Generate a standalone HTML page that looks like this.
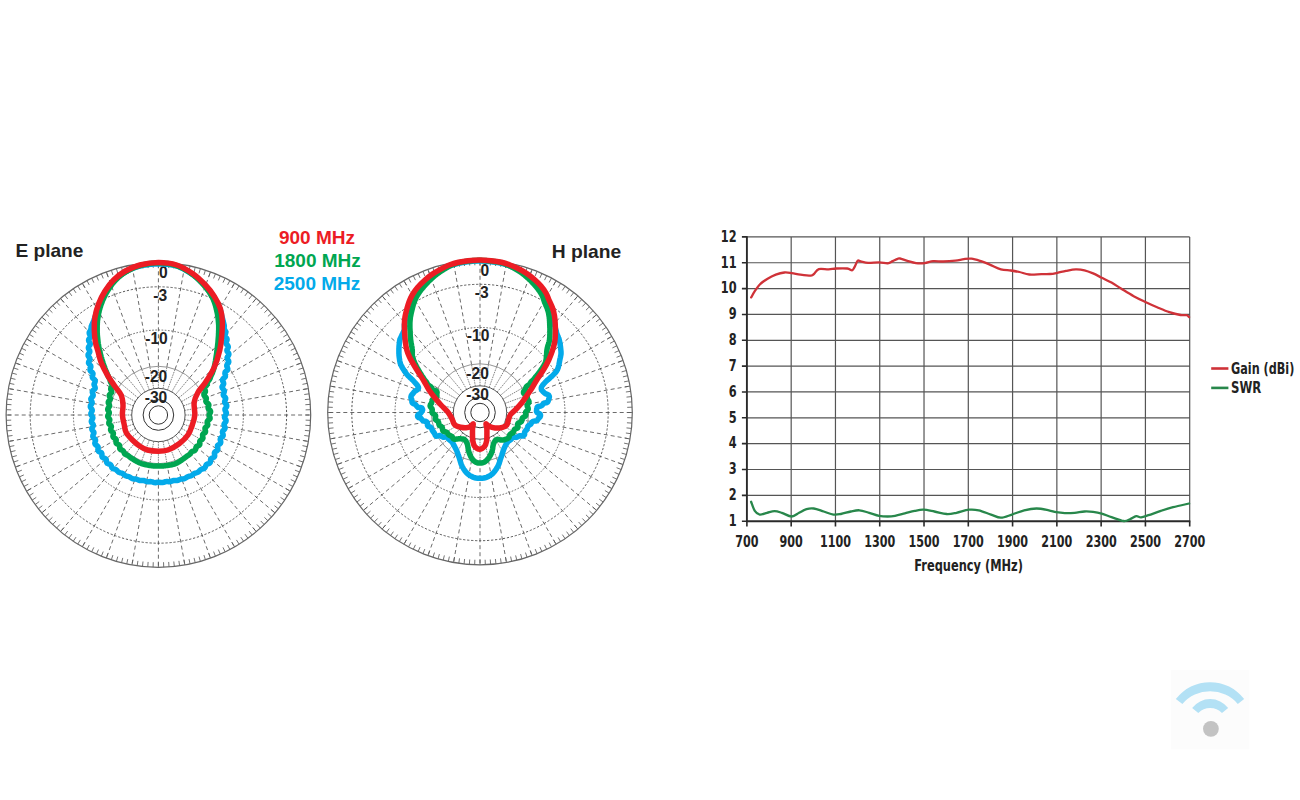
<!DOCTYPE html>
<html><head><meta charset="utf-8"><title>Antenna patterns</title>
<style>
html,body{margin:0;padding:0;background:#fff;}
svg{display:block;}
.tt{font-family:"Liberation Sans",Arial,sans-serif;font-weight:bold;font-size:19px;fill:#222;}
.pl{font-family:"Liberation Sans",Arial,sans-serif;font-weight:bold;font-size:15.6px;fill:#222;}
.cl{font-family:"DejaVu Sans Condensed","DejaVu Sans",sans-serif;font-weight:bold;font-size:15.2px;fill:#222;}
</style></head>
<body>
<svg width="1300" height="800" viewBox="0 0 1300 800">
<path d="M158.4,366.3L158.4,262.7M166.86,367.04L184.85,265.01M175.06,369.24L210.49,271.88M182.75,372.82L234.55,283.1M189.7,377.69L256.3,298.33M195.71,383.7L275.07,317.1M200.58,390.65L290.3,338.85M204.16,398.34L301.52,362.91M206.36,406.54L308.39,388.55M207.1,415L310.7,415M206.36,423.46L308.39,441.45M204.16,431.66L301.52,467.09M200.58,439.35L290.3,491.15M195.71,446.3L275.07,512.9M189.7,452.31L256.3,531.67M182.75,457.18L234.55,546.9M175.06,460.76L210.49,558.12M166.86,462.96L184.85,564.99M158.4,463.7L158.4,567.3M149.94,462.96L131.95,564.99M141.74,460.76L106.31,558.12M134.05,457.18L82.25,546.9M127.1,452.31L60.5,531.67M121.09,446.3L41.73,512.9M116.22,439.35L26.5,491.15M112.64,431.66L15.28,467.09M110.44,423.46L8.41,441.45M109.7,415L6.1,415M110.44,406.54L8.41,388.55M112.64,398.34L15.28,362.91M116.22,390.65L26.5,338.85M121.09,383.7L41.73,317.1M127.1,377.69L60.5,298.33M134.05,372.82L82.25,283.1M141.74,369.24L106.31,271.88M149.94,367.04L131.95,265.01" stroke="#5a5a5a" stroke-width="0.9" stroke-dasharray="4 3" fill="none"/>
<path d="M158.4,388.3L158.4,366.3M163.04,388.71L166.86,367.04M167.53,389.91L175.06,369.24M171.75,391.88L182.75,372.82M175.56,394.55L189.7,377.69M178.85,397.84L195.71,383.7M181.52,401.65L200.58,390.65M183.49,405.87L204.16,398.34M184.69,410.36L206.36,406.54M185.1,415L207.1,415M184.69,419.64L206.36,423.46M183.49,424.13L204.16,431.66M181.52,428.35L200.58,439.35M178.85,432.16L195.71,446.3M175.56,435.45L189.7,452.31M171.75,438.12L182.75,457.18M167.53,440.09L175.06,460.76M163.04,441.29L166.86,462.96M158.4,441.7L158.4,463.7M153.76,441.29L149.94,462.96M149.27,440.09L141.74,460.76M145.05,438.12L134.05,457.18M141.24,435.45L127.1,452.31M137.95,432.16L121.09,446.3M135.28,428.35L116.22,439.35M133.31,424.13L112.64,431.66M132.11,419.64L110.44,423.46M131.7,415L109.7,415M132.11,410.36L110.44,406.54M133.31,405.87L112.64,398.34M135.28,401.65L116.22,390.65M137.95,397.84L121.09,383.7M141.24,394.55L127.1,377.69M145.05,391.88L134.05,372.82M149.27,389.91L141.74,369.24M153.76,388.71L149.94,367.04" stroke="#666" stroke-width="0.8" stroke-dasharray="1.6 0.9" fill="none"/>
<path d="M158.4,267.7L158.4,262.7M163.54,267.79L163.72,262.79M168.68,268.06L169.02,263.07M173.8,268.51L174.32,263.53M178.9,269.13L179.6,264.18M183.98,269.94L184.85,265.01M189.03,270.92L190.06,266.03M194.04,272.08L195.24,267.22M199,273.41L200.38,268.6M203.92,274.91L205.46,270.15M208.78,276.58L210.49,271.88M213.58,278.43L215.45,273.79M218.31,280.43L220.35,275.87M222.97,282.61L225.16,278.11M227.55,284.94L229.9,280.53M232.05,287.43L234.55,283.1M236.46,290.08L239.11,285.84M240.77,292.88L243.57,288.74M244.98,295.83L247.92,291.79M249.09,298.93L252.17,294.99M253.08,302.16L256.3,298.33M256.96,305.53L260.31,301.82M260.72,309.04L264.2,305.44M264.36,312.68L267.96,309.2M267.87,316.44L271.58,313.09M271.24,320.32L275.07,317.1M274.47,324.31L278.41,321.23M277.57,328.42L281.61,325.48M280.52,332.63L284.66,329.83M283.32,336.94L287.56,334.29M285.97,341.35L290.3,338.85M288.46,345.85L292.87,343.5M290.79,350.43L295.29,348.24M292.97,355.09L297.53,353.05M294.97,359.82L299.61,357.95M296.82,364.62L301.52,362.91M298.49,369.48L303.25,367.94M299.99,374.4L304.8,373.02M301.32,379.36L306.18,378.16M302.48,384.37L307.37,383.34M303.46,389.42L308.39,388.55M304.27,394.5L309.22,393.8M304.89,399.6L309.87,399.08M305.34,404.72L310.33,404.38M305.61,409.86L310.61,409.68M305.7,415L310.7,415M305.61,420.14L310.61,420.32M305.34,425.28L310.33,425.62M304.89,430.4L309.87,430.92M304.27,435.5L309.22,436.2M303.46,440.58L308.39,441.45M302.48,445.63L307.37,446.66M301.32,450.64L306.18,451.84M299.99,455.6L304.8,456.98M298.49,460.52L303.25,462.06M296.82,465.38L301.52,467.09M294.97,470.18L299.61,472.05M292.97,474.91L297.53,476.95M290.79,479.57L295.29,481.76M288.46,484.15L292.87,486.5M285.97,488.65L290.3,491.15M283.32,493.06L287.56,495.71M280.52,497.37L284.66,500.17M277.57,501.58L281.61,504.52M274.47,505.69L278.41,508.77M271.24,509.68L275.07,512.9M267.87,513.56L271.58,516.91M264.36,517.32L267.96,520.8M260.72,520.96L264.2,524.56M256.96,524.47L260.31,528.18M253.08,527.84L256.3,531.67M249.09,531.07L252.17,535.01M244.98,534.17L247.92,538.21M240.77,537.12L243.57,541.26M236.46,539.92L239.11,544.16M232.05,542.57L234.55,546.9M227.55,545.06L229.9,549.47M222.97,547.39L225.16,551.89M218.31,549.57L220.35,554.13M213.58,551.57L215.45,556.21M208.78,553.42L210.49,558.12M203.92,555.09L205.46,559.85M199,556.59L200.38,561.4M194.04,557.92L195.24,562.78M189.03,559.08L190.06,563.97M183.98,560.06L184.85,564.99M178.9,560.87L179.6,565.82M173.8,561.49L174.32,566.47M168.68,561.94L169.02,566.93M163.54,562.21L163.72,567.21M158.4,562.3L158.4,567.3M153.26,562.21L153.08,567.21M148.12,561.94L147.78,566.93M143,561.49L142.48,566.47M137.9,560.87L137.2,565.82M132.82,560.06L131.95,564.99M127.77,559.08L126.74,563.97M122.76,557.92L121.56,562.78M117.8,556.59L116.42,561.4M112.88,555.09L111.34,559.85M108.02,553.42L106.31,558.12M103.22,551.57L101.35,556.21M98.49,549.57L96.45,554.13M93.83,547.39L91.64,551.89M89.25,545.06L86.9,549.47M84.75,542.57L82.25,546.9M80.34,539.92L77.69,544.16M76.03,537.12L73.23,541.26M71.82,534.17L68.88,538.21M67.71,531.07L64.63,535.01M63.72,527.84L60.5,531.67M59.84,524.47L56.49,528.18M56.08,520.96L52.6,524.56M52.44,517.32L48.84,520.8M48.93,513.56L45.22,516.91M45.56,509.68L41.73,512.9M42.33,505.69L38.39,508.77M39.23,501.58L35.19,504.52M36.28,497.37L32.14,500.17M33.48,493.06L29.24,495.71M30.83,488.65L26.5,491.15M28.34,484.15L23.93,486.5M26.01,479.57L21.51,481.76M23.83,474.91L19.27,476.95M21.83,470.18L17.19,472.05M19.98,465.38L15.28,467.09M18.31,460.52L13.55,462.06M16.81,455.6L12,456.98M15.48,450.64L10.62,451.84M14.32,445.63L9.43,446.66M13.34,440.58L8.41,441.45M12.53,435.5L7.58,436.2M11.91,430.4L6.93,430.92M11.46,425.28L6.47,425.62M11.19,420.14L6.19,420.32M11.1,415L6.1,415M11.19,409.86L6.19,409.68M11.46,404.72L6.47,404.38M11.91,399.6L6.93,399.08M12.53,394.5L7.58,393.8M13.34,389.42L8.41,388.55M14.32,384.37L9.43,383.34M15.48,379.36L10.62,378.16M16.81,374.4L12,373.02M18.31,369.48L13.55,367.94M19.98,364.62L15.28,362.91M21.83,359.82L17.19,357.95M23.83,355.09L19.27,353.05M26.01,350.43L21.51,348.24M28.34,345.85L23.93,343.5M30.83,341.35L26.5,338.85M33.48,336.94L29.24,334.29M36.28,332.63L32.14,329.83M39.23,328.42L35.19,325.48M42.33,324.31L38.39,321.23M45.56,320.32L41.73,317.1M48.93,316.44L45.22,313.09M52.44,312.68L48.84,309.2M56.08,309.04L52.6,305.44M59.84,305.53L56.49,301.82M63.72,302.16L60.5,298.33M67.71,298.93L64.63,294.99M71.82,295.83L68.88,291.79M76.03,292.88L73.23,288.74M80.34,290.08L77.69,285.84M84.75,287.43L82.25,283.1M89.25,284.94L86.9,280.53M93.83,282.61L91.64,278.11M98.49,280.43L96.45,275.87M103.22,278.43L101.35,273.79M108.02,276.58L106.31,271.88M112.88,274.91L111.34,270.15M117.8,273.41L116.42,268.6M122.76,272.08L121.56,267.22M127.77,270.92L126.74,266.03M132.82,269.94L131.95,265.01M137.9,269.13L137.2,264.18M143,268.51L142.48,263.53M148.12,268.06L147.78,263.07M153.26,267.79L153.08,262.79" stroke="#5a5a5a" stroke-width="0.85" fill="none"/>
<circle cx="158.4" cy="415" r="152.3" stroke="#666" stroke-width="1.2" fill="none"/>
<circle cx="158.4" cy="415" r="128.2" stroke="#444" stroke-width="0.9" stroke-dasharray="2.2 1.8" fill="none"/>
<circle cx="158.4" cy="415" r="85" stroke="#555" stroke-width="0.9" stroke-dasharray="1.6 1.6" fill="none"/>
<circle cx="158.4" cy="415" r="48.7" stroke="#8a8a8a" stroke-width="0.9" fill="none"/>
<circle cx="158.4" cy="415" r="26.7" stroke="#555" stroke-width="1" fill="none"/>
<circle cx="158.4" cy="415" r="15.3" stroke="#333" stroke-width="1" fill="none"/>
<circle cx="158.4" cy="415" r="9.2" stroke="#333" stroke-width="1" fill="none"/>
<path d="M480,363.8L480,260.2M488.46,364.54L506.45,262.51M496.66,366.74L532.09,269.38M504.35,370.32L556.15,280.6M511.3,375.19L577.9,295.83M517.31,381.2L596.67,314.6M522.18,388.15L611.9,336.35M525.76,395.84L623.12,360.41M527.96,404.04L629.99,386.05M528.7,412.5L632.3,412.5M527.96,420.96L629.99,438.95M525.76,429.16L623.12,464.59M522.18,436.85L611.9,488.65M517.31,443.8L596.67,510.4M511.3,449.81L577.9,529.17M504.35,454.68L556.15,544.4M496.66,458.26L532.09,555.62M488.46,460.46L506.45,562.49M480,461.2L480,564.8M471.54,460.46L453.55,562.49M463.34,458.26L427.91,555.62M455.65,454.68L403.85,544.4M448.7,449.81L382.1,529.17M442.69,443.8L363.33,510.4M437.82,436.85L348.1,488.65M434.24,429.16L336.88,464.59M432.04,420.96L330.01,438.95M431.3,412.5L327.7,412.5M432.04,404.04L330.01,386.05M434.24,395.84L336.88,360.41M437.82,388.15L348.1,336.35M442.69,381.2L363.33,314.6M448.7,375.19L382.1,295.83M455.65,370.32L403.85,280.6M463.34,366.74L427.91,269.38M471.54,364.54L453.55,262.51" stroke="#5a5a5a" stroke-width="0.9" stroke-dasharray="4 3" fill="none"/>
<path d="M480,385.8L480,363.8M484.64,386.21L488.46,364.54M489.13,387.41L496.66,366.74M493.35,389.38L504.35,370.32M497.16,392.05L511.3,375.19M500.45,395.34L517.31,381.2M503.12,399.15L522.18,388.15M505.09,403.37L525.76,395.84M506.29,407.86L527.96,404.04M506.7,412.5L528.7,412.5M506.29,417.14L527.96,420.96M505.09,421.63L525.76,429.16M503.12,425.85L522.18,436.85M500.45,429.66L517.31,443.8M497.16,432.95L511.3,449.81M493.35,435.62L504.35,454.68M489.13,437.59L496.66,458.26M484.64,438.79L488.46,460.46M480,439.2L480,461.2M475.36,438.79L471.54,460.46M470.87,437.59L463.34,458.26M466.65,435.62L455.65,454.68M462.84,432.95L448.7,449.81M459.55,429.66L442.69,443.8M456.88,425.85L437.82,436.85M454.91,421.63L434.24,429.16M453.71,417.14L432.04,420.96M453.3,412.5L431.3,412.5M453.71,407.86L432.04,404.04M454.91,403.37L434.24,395.84M456.88,399.15L437.82,388.15M459.55,395.34L442.69,381.2M462.84,392.05L448.7,375.19M466.65,389.38L455.65,370.32M470.87,387.41L463.34,366.74M475.36,386.21L471.54,364.54" stroke="#666" stroke-width="0.8" stroke-dasharray="1.6 0.9" fill="none"/>
<path d="M480,265.2L480,260.2M485.14,265.29L485.32,260.29M490.28,265.56L490.62,260.57M495.4,266.01L495.92,261.03M500.5,266.63L501.2,261.68M505.58,267.44L506.45,262.51M510.63,268.42L511.66,263.53M515.64,269.58L516.84,264.72M520.6,270.91L521.98,266.1M525.52,272.41L527.06,267.65M530.38,274.08L532.09,269.38M535.18,275.93L537.05,271.29M539.91,277.93L541.95,273.37M544.57,280.11L546.76,275.61M549.15,282.44L551.5,278.03M553.65,284.93L556.15,280.6M558.06,287.58L560.71,283.34M562.37,290.38L565.17,286.24M566.58,293.33L569.52,289.29M570.69,296.43L573.77,292.49M574.68,299.66L577.9,295.83M578.56,303.03L581.91,299.32M582.32,306.54L585.8,302.94M585.96,310.18L589.56,306.7M589.47,313.94L593.18,310.59M592.84,317.82L596.67,314.6M596.07,321.81L600.01,318.73M599.17,325.92L603.21,322.98M602.12,330.13L606.26,327.33M604.92,334.44L609.16,331.79M607.57,338.85L611.9,336.35M610.06,343.35L614.47,341M612.39,347.93L616.89,345.74M614.57,352.59L619.13,350.55M616.57,357.32L621.21,355.45M618.42,362.12L623.12,360.41M620.09,366.98L624.85,365.44M621.59,371.9L626.4,370.52M622.92,376.86L627.78,375.66M624.08,381.87L628.97,380.84M625.06,386.92L629.99,386.05M625.87,392L630.82,391.3M626.49,397.1L631.47,396.58M626.94,402.22L631.93,401.88M627.21,407.36L632.21,407.18M627.3,412.5L632.3,412.5M627.21,417.64L632.21,417.82M626.94,422.78L631.93,423.12M626.49,427.9L631.47,428.42M625.87,433L630.82,433.7M625.06,438.08L629.99,438.95M624.08,443.13L628.97,444.16M622.92,448.14L627.78,449.34M621.59,453.1L626.4,454.48M620.09,458.02L624.85,459.56M618.42,462.88L623.12,464.59M616.57,467.68L621.21,469.55M614.57,472.41L619.13,474.45M612.39,477.07L616.89,479.26M610.06,481.65L614.47,484M607.57,486.15L611.9,488.65M604.92,490.56L609.16,493.21M602.12,494.87L606.26,497.67M599.17,499.08L603.21,502.02M596.07,503.19L600.01,506.27M592.84,507.18L596.67,510.4M589.47,511.06L593.18,514.41M585.96,514.82L589.56,518.3M582.32,518.46L585.8,522.06M578.56,521.97L581.91,525.68M574.68,525.34L577.9,529.17M570.69,528.57L573.77,532.51M566.58,531.67L569.52,535.71M562.37,534.62L565.17,538.76M558.06,537.42L560.71,541.66M553.65,540.07L556.15,544.4M549.15,542.56L551.5,546.97M544.57,544.89L546.76,549.39M539.91,547.07L541.95,551.63M535.18,549.07L537.05,553.71M530.38,550.92L532.09,555.62M525.52,552.59L527.06,557.35M520.6,554.09L521.98,558.9M515.64,555.42L516.84,560.28M510.63,556.58L511.66,561.47M505.58,557.56L506.45,562.49M500.5,558.37L501.2,563.32M495.4,558.99L495.92,563.97M490.28,559.44L490.62,564.43M485.14,559.71L485.32,564.71M480,559.8L480,564.8M474.86,559.71L474.68,564.71M469.72,559.44L469.38,564.43M464.6,558.99L464.08,563.97M459.5,558.37L458.8,563.32M454.42,557.56L453.55,562.49M449.37,556.58L448.34,561.47M444.36,555.42L443.16,560.28M439.4,554.09L438.02,558.9M434.48,552.59L432.94,557.35M429.62,550.92L427.91,555.62M424.82,549.07L422.95,553.71M420.09,547.07L418.05,551.63M415.43,544.89L413.24,549.39M410.85,542.56L408.5,546.97M406.35,540.07L403.85,544.4M401.94,537.42L399.29,541.66M397.63,534.62L394.83,538.76M393.42,531.67L390.48,535.71M389.31,528.57L386.23,532.51M385.32,525.34L382.1,529.17M381.44,521.97L378.09,525.68M377.68,518.46L374.2,522.06M374.04,514.82L370.44,518.3M370.53,511.06L366.82,514.41M367.16,507.18L363.33,510.4M363.93,503.19L359.99,506.27M360.83,499.08L356.79,502.02M357.88,494.87L353.74,497.67M355.08,490.56L350.84,493.21M352.43,486.15L348.1,488.65M349.94,481.65L345.53,484M347.61,477.07L343.11,479.26M345.43,472.41L340.87,474.45M343.43,467.68L338.79,469.55M341.58,462.88L336.88,464.59M339.91,458.02L335.15,459.56M338.41,453.1L333.6,454.48M337.08,448.14L332.22,449.34M335.92,443.13L331.03,444.16M334.94,438.08L330.01,438.95M334.13,433L329.18,433.7M333.51,427.9L328.53,428.42M333.06,422.78L328.07,423.12M332.79,417.64L327.79,417.82M332.7,412.5L327.7,412.5M332.79,407.36L327.79,407.18M333.06,402.22L328.07,401.88M333.51,397.1L328.53,396.58M334.13,392L329.18,391.3M334.94,386.92L330.01,386.05M335.92,381.87L331.03,380.84M337.08,376.86L332.22,375.66M338.41,371.9L333.6,370.52M339.91,366.98L335.15,365.44M341.58,362.12L336.88,360.41M343.43,357.32L338.79,355.45M345.43,352.59L340.87,350.55M347.61,347.93L343.11,345.74M349.94,343.35L345.53,341M352.43,338.85L348.1,336.35M355.08,334.44L350.84,331.79M357.88,330.13L353.74,327.33M360.83,325.92L356.79,322.98M363.93,321.81L359.99,318.73M367.16,317.82L363.33,314.6M370.53,313.94L366.82,310.59M374.04,310.18L370.44,306.7M377.68,306.54L374.2,302.94M381.44,303.03L378.09,299.32M385.32,299.66L382.1,295.83M389.31,296.43L386.23,292.49M393.42,293.33L390.48,289.29M397.63,290.38L394.83,286.24M401.94,287.58L399.29,283.34M406.35,284.93L403.85,280.6M410.85,282.44L408.5,278.03M415.43,280.11L413.24,275.61M420.09,277.93L418.05,273.37M424.82,275.93L422.95,271.29M429.62,274.08L427.91,269.38M434.48,272.41L432.94,267.65M439.4,270.91L438.02,266.1M444.36,269.58L443.16,264.72M449.37,268.42L448.34,263.53M454.42,267.44L453.55,262.51M459.5,266.63L458.8,261.68M464.6,266.01L464.08,261.03M469.72,265.56L469.38,260.57M474.86,265.29L474.68,260.29" stroke="#5a5a5a" stroke-width="0.85" fill="none"/>
<circle cx="480" cy="412.5" r="152.3" stroke="#666" stroke-width="1.2" fill="none"/>
<circle cx="480" cy="412.5" r="128.2" stroke="#444" stroke-width="0.9" stroke-dasharray="2.2 1.8" fill="none"/>
<circle cx="480" cy="412.5" r="85" stroke="#555" stroke-width="0.9" stroke-dasharray="1.6 1.6" fill="none"/>
<circle cx="480" cy="412.5" r="48.7" stroke="#8a8a8a" stroke-width="0.9" fill="none"/>
<circle cx="480" cy="412.5" r="26.7" stroke="#555" stroke-width="1" fill="none"/>
<circle cx="480" cy="412.5" r="15.3" stroke="#333" stroke-width="1" fill="none"/>
<circle cx="480" cy="412.5" r="9.2" stroke="#333" stroke-width="1" fill="none"/>
<text x="163.3" y="278" text-anchor="middle" class="pl">0</text>
<text x="160.2" y="301.4" text-anchor="middle" class="pl">-3</text>
<text x="156.5" y="344" text-anchor="middle" class="pl">-10</text>
<text x="156" y="382" text-anchor="middle" class="pl">-20</text>
<text x="156" y="403" text-anchor="middle" class="pl">-30</text>
<text x="484.9" y="275.5" text-anchor="middle" class="pl">0</text>
<text x="481.8" y="298.4" text-anchor="middle" class="pl">-3</text>
<text x="478.1" y="341" text-anchor="middle" class="pl">-10</text>
<text x="477.6" y="379" text-anchor="middle" class="pl">-20</text>
<text x="477.6" y="400" text-anchor="middle" class="pl">-30</text>
<path d="M158.4,264.0 156.9,264.0 155.3,264.1 153.7,264.1 152.1,264.2 150.5,264.3 148.9,264.5 147.4,264.7 145.8,264.9 144.3,265.1 142.8,265.4 141.3,265.7 139.9,266.0 138.5,266.4 137.2,266.8 135.8,267.2 134.5,267.7 133.2,268.2 131.9,268.7 130.7,269.3 129.5,269.8 128.3,270.4 127.1,271.0 126.0,271.6 124.9,272.2 123.8,272.9 122.8,273.5 121.8,274.2 120.8,274.9 119.8,275.6 118.9,276.3 118.0,277.1 117.1,277.8 116.2,278.6 115.3,279.4 114.5,280.2 113.7,281.0 112.8,281.8 112.0,282.7 111.2,283.6 110.4,284.5 109.7,285.5 108.9,286.4 108.2,287.4 107.5,288.3 106.8,289.3 106.2,290.3 105.5,291.3 104.9,292.2 104.3,293.3 103.7,294.3 103.1,295.4 102.6,296.4 102.0,297.5 101.5,298.6 101.0,299.7 100.5,300.7 100.1,301.7 99.7,302.7 99.3,303.6 98.9,304.5 98.6,305.3 98.3,306.1 98.0,306.8 97.8,307.4 97.6,308.1 97.5,308.7 97.3,309.3 97.2,309.9 97.0,310.4 96.9,310.9 96.8,311.5 96.6,312.0 96.4,312.5 96.3,313.0 96.2,313.4 96.0,313.8 95.9,314.2 95.8,314.6 95.7,315.0 95.6,315.4 95.4,315.7 95.3,316.1 95.2,316.6 95.0,317.0 94.8,317.5 94.7,317.9 94.5,318.4 94.3,318.9 94.1,319.4 93.9,319.9 93.8,320.4 93.6,320.9 93.4,321.4 93.2,322.0 93.0,322.5 92.8,323.0 92.6,323.5 92.4,324.0 92.1,324.5 91.9,325.0 91.6,325.6 91.4,326.1 91.2,326.6 91.2,327.2 91.1,327.8 91.1,328.4 91.1,329.0 90.9,329.6 90.7,330.1 90.4,330.7 90.0,331.2 89.6,331.7 89.3,332.3 89.2,332.9 89.3,333.6 89.5,334.2 90.0,334.9 90.3,335.6 90.5,336.3 90.4,337.1 90.0,337.8 89.3,338.6 88.7,339.5 88.6,340.4 88.9,341.4 89.6,342.3 90.1,343.3 90.3,344.2 89.9,345.1 89.3,345.9 88.7,346.7 88.4,347.5 88.4,348.1 88.6,348.7 88.9,349.3 89.2,349.8 89.5,350.3 89.7,350.7 89.8,351.2 89.8,351.6 89.7,352.1 89.4,352.7 88.9,353.3 88.4,354.0 88.1,354.8 88.1,355.7 88.6,356.6 89.4,357.5 89.9,358.5 89.9,359.6 89.3,360.7 88.7,361.8 88.5,362.9 89.1,364.0 90.0,364.9 90.7,365.8 90.9,366.9 90.4,368.1 90.0,369.5 90.2,370.7 91.2,371.6 92.4,372.5 93.0,373.6 92.8,374.8 92.4,376.1 92.3,377.3 92.7,378.1 93.5,378.8 94.2,379.4 94.8,379.9 95.1,380.4 95.2,380.9 95.2,381.4 95.0,381.9 94.9,382.4 94.6,382.9 94.4,383.4 94.2,383.8 94.0,384.3 94.1,384.9 94.4,385.6 94.8,386.5 95.1,387.4 95.2,388.3 94.7,389.1 93.9,389.8 93.0,390.5 92.4,391.3 92.3,392.2 92.6,393.2 93.0,394.3 93.2,395.2 93.1,396.0 92.5,396.7 91.7,397.5 91.1,398.2 90.8,399.0 91.0,399.9 91.4,400.8 91.9,401.7 92.2,402.6 92.0,403.4 91.5,404.2 90.9,405.0 90.4,405.8 90.3,406.7 90.6,407.5 91.2,408.3 91.8,409.1 92.2,409.9 92.2,410.8 91.9,411.6 91.3,412.5 90.9,413.4 90.9,414.2 91.2,415.0 91.8,415.8 92.4,416.6 92.8,417.4 92.8,418.2 92.4,419.1 91.8,419.9 91.4,420.8 91.3,421.6 91.6,422.5 92.2,423.3 92.9,424.1 93.3,424.9 93.2,425.8 92.8,426.8 92.2,427.8 91.8,428.7 92.0,429.7 92.6,430.6 93.4,431.5 93.9,432.3 93.9,433.3 93.4,434.3 92.9,435.4 92.8,436.4 93.2,437.4 94.0,438.2 95.0,438.9 95.5,439.8 95.5,440.8 95.1,442.0 94.8,443.1 95.1,444.1 95.8,444.9 96.9,445.6 97.7,446.3 98.1,447.1 98.1,448.2 97.9,449.4 98.0,450.5 98.5,451.3 99.5,451.9 100.6,452.3 101.5,452.9 101.9,453.8 101.9,455.0 101.9,456.2 102.3,457.2 103.2,457.8 104.4,458.2 105.6,458.7 106.3,459.6 106.4,460.9 106.6,462.3 107.2,463.3 108.3,463.8 109.6,464.2 110.6,464.8 111.2,465.7 111.6,466.9 112.1,467.9 112.8,468.6 113.9,468.9 114.9,469.2 115.8,469.5 116.6,470.1 117.3,470.9 118.0,471.6 118.8,472.2 119.7,472.6 120.6,472.9 121.6,473.1 122.5,473.5 123.4,474.0 124.2,474.7 125.0,475.4 125.9,475.9 126.9,476.2 127.9,476.4 128.9,476.6 129.9,477.1 130.7,477.7 131.6,478.3 132.6,478.7 133.6,478.9 134.7,479.0 135.7,479.1 136.8,479.3 137.8,479.7 138.7,480.2 139.8,480.5 140.9,480.6 142.0,480.6 143.1,480.5 144.1,480.6 145.1,481.0 146.1,481.4 147.1,481.7 148.2,481.8 149.2,481.7 150.3,481.6 151.3,481.7 152.3,481.9 153.3,482.3 154.3,482.6 155.3,482.7 156.4,482.5 157.4,482.3 158.4,482.2 159.4,482.3 160.4,482.5 161.5,482.6 162.5,482.6 163.5,482.4 164.5,482.0 165.5,481.7 166.5,481.6 167.6,481.6 168.6,481.7 169.7,481.7 170.7,481.5 171.7,481.1 172.7,480.7 173.7,480.5 174.8,480.5 175.9,480.6 177.0,480.5 178.1,480.3 179.1,479.8 180.0,479.3 181.1,479.0 182.1,478.9 183.2,478.9 184.2,478.7 185.2,478.3 186.1,477.7 187.0,477.1 187.9,476.6 188.9,476.3 189.9,476.1 190.9,475.9 191.8,475.4 192.7,474.8 193.4,474.1 194.3,473.5 195.2,473.1 196.2,472.8 197.1,472.5 198.1,472.1 198.9,471.5 199.6,470.8 200.3,470.0 201.1,469.4 202.0,469.0 203.0,468.8 204.0,468.5 204.8,467.9 205.3,467.1 205.7,466.1 206.1,465.1 206.7,464.4 207.6,463.9 208.7,463.6 209.7,463.2 210.3,462.4 210.5,461.4 210.5,460.3 210.7,459.2 211.2,458.5 212.1,458.1 213.0,457.7 213.9,457.2 214.5,456.6 214.7,455.8 214.6,454.8 214.4,453.8 214.4,452.9 214.7,452.1 215.5,451.5 216.5,451.0 217.4,450.3 217.8,449.4 217.8,448.2 217.5,446.9 217.5,445.7 218.3,444.8 219.5,444.1 220.5,443.2 220.8,442.1 220.5,440.7 220.2,439.4 220.5,438.3 221.5,437.4 222.5,436.6 223.2,435.6 223.1,434.5 222.6,433.2 222.4,431.9 222.8,430.9 223.8,430.0 224.7,429.1 225.1,428.1 224.9,427.0 224.3,425.9 224.0,424.9 224.1,424.0 224.7,423.1 225.4,422.3 225.9,421.5 226.1,420.7 225.9,419.9 225.4,419.0 224.8,418.2 224.5,417.4 224.5,416.6 224.9,415.8 225.5,415.0 226.1,414.2 226.4,413.4 226.3,412.6 225.8,411.7 225.3,410.8 225.0,409.9 225.0,409.1 225.4,408.3 226.1,407.5 226.6,406.7 226.8,405.8 226.6,405.0 226.0,404.2 225.3,403.4 224.8,402.7 224.6,401.9 224.8,401.1 225.2,400.1 225.6,399.2 225.7,398.3 225.3,397.5 224.6,396.8 223.8,396.0 223.3,395.1 223.3,394.2 223.7,393.1 224.2,392.0 224.4,391.0 223.9,390.0 223.1,389.1 222.3,388.1 222.0,387.0 222.5,385.9 223.3,384.8 223.7,383.7 223.5,382.6 222.8,381.3 222.5,379.9 223.1,378.7 224.4,377.7 225.4,376.6 225.3,375.1 224.9,373.5 225.1,372.1 226.2,371.1 227.4,370.1 227.8,368.9 227.4,367.5 226.8,366.3 226.8,365.1 227.4,364.1 228.3,363.0 228.8,361.9 228.6,360.8 227.9,359.8 227.3,358.7 227.1,357.7 227.5,356.8 228.2,355.9 228.7,355.0 228.9,354.2 228.7,353.4 228.2,352.7 227.7,352.1 227.2,351.4 227.0,350.9 226.9,350.3 227.1,349.6 227.4,349.0 227.8,348.3 228.1,347.6 228.3,346.9 228.1,346.2 227.7,345.5 227.0,344.8 226.4,344.2 226.0,343.5 225.9,342.7 226.2,341.9 226.6,341.0 227.0,340.2 227.1,339.4 226.9,338.6 226.3,337.9 225.7,337.3 225.1,336.6 224.8,335.8 224.9,335.0 225.2,334.2 225.6,333.3 225.8,332.5 225.8,331.8 225.5,331.0 225.0,330.4 224.6,329.7 224.3,329.1 224.2,328.4 224.2,327.8 224.2,327.1 224.3,326.5 224.3,325.9 224.2,325.3 224.1,324.7 223.9,324.2 223.8,323.6 223.6,323.1 223.5,322.5 223.4,322.0 223.3,321.5 223.2,321.0 223.0,320.5 222.9,320.0 222.8,319.5 222.6,319.0 222.5,318.5 222.4,318.0 222.2,317.5 222.1,317.0 221.9,316.5 221.8,316.0 221.7,315.5 221.5,314.9 221.4,314.4 221.3,313.9 221.2,313.4 221.1,312.9 221.0,312.3 220.8,311.7 220.7,311.1 220.4,310.5 220.2,309.8 219.9,309.0 219.6,308.2 219.2,307.3 218.8,306.4 218.4,305.4 217.9,304.4 217.5,303.4 217.0,302.4 216.4,301.3 215.9,300.3 215.3,299.2 214.7,298.2 214.2,297.2 213.5,296.3 212.9,295.3 212.3,294.4 211.6,293.5 210.9,292.5 210.2,291.6 209.5,290.7 208.7,289.7 207.9,288.8 207.1,287.9 206.3,286.9 205.4,286.0 204.5,285.1 203.6,284.1 202.6,283.1 201.7,282.2 200.6,281.2 199.6,280.2 198.6,279.3 197.5,278.3 196.4,277.4 195.2,276.5 194.1,275.6 192.9,274.8 191.7,273.9 190.4,273.1 189.1,272.2 187.8,271.4 186.5,270.6 185.1,269.8 183.8,269.0 182.4,268.3 180.9,267.7 179.5,267.0 178.1,266.5 176.7,266.0 175.2,265.6 173.7,265.2 172.2,264.9 170.7,264.7 169.2,264.5 167.7,264.3 166.1,264.2 164.6,264.1 163.0,264.1 161.5,264.0 159.9,264.0Z" stroke="#03aaea" stroke-width="5.5" fill="none" stroke-linejoin="round"/>
<path d="M158.4,263.0 156.9,263.0 155.3,263.1 153.8,263.2 152.2,263.3 150.6,263.5 149.0,263.7 147.5,264.0 145.9,264.2 144.4,264.5 142.9,264.9 141.5,265.2 140.1,265.6 138.7,266.0 137.4,266.4 136.1,266.9 134.8,267.4 133.5,267.9 132.3,268.5 131.1,269.1 129.9,269.7 128.7,270.3 127.6,270.9 126.5,271.6 125.4,272.2 124.4,272.9 123.3,273.5 122.4,274.2 121.4,274.9 120.5,275.6 119.6,276.4 118.7,277.1 117.9,277.9 117.0,278.7 116.2,279.5 115.4,280.4 114.6,281.2 113.8,282.1 113.1,283.0 112.3,283.9 111.6,284.8 110.9,285.8 110.2,286.8 109.5,287.8 108.8,288.8 108.2,289.8 107.6,290.8 107.0,291.8 106.4,292.8 105.8,293.8 105.3,294.8 104.8,295.9 104.2,296.9 103.8,298.0 103.3,299.0 102.8,300.1 102.4,301.1 102.0,302.2 101.6,303.3 101.2,304.3 100.8,305.4 100.5,306.5 100.1,307.6 99.8,308.7 99.5,309.8 99.2,310.9 99.0,312.0 98.7,313.1 98.5,314.2 98.3,315.3 98.1,316.4 98.0,317.4 97.8,318.5 97.7,319.5 97.5,320.6 97.4,321.6 97.4,322.6 97.3,323.6 97.3,324.6 97.2,325.6 97.2,326.5 97.2,327.5 97.2,328.5 97.2,329.5 97.2,330.5 97.2,331.5 97.2,332.5 97.3,333.5 97.3,334.6 97.4,335.6 97.5,336.6 97.6,337.6 97.7,338.6 97.8,339.6 97.9,340.6 98.0,341.6 98.1,342.5 98.2,343.4 98.4,344.3 98.5,345.2 98.7,346.1 98.8,347.0 99.0,347.8 99.2,348.7 99.4,349.5 99.6,350.4 99.8,351.2 100.0,352.1 100.2,353.0 100.4,353.9 100.7,354.8 100.9,355.7 101.1,356.6 101.4,357.5 101.7,358.4 101.9,359.4 102.2,360.3 102.5,361.2 102.8,362.1 103.1,363.1 103.4,364.0 103.7,365.0 104.1,365.9 104.5,366.9 104.8,367.9 105.2,368.9 105.6,369.9 106.0,370.9 106.4,371.9 106.8,372.8 107.2,373.8 107.5,374.6 107.9,375.5 108.2,376.3 108.6,377.1 109.1,377.8 109.5,378.6 109.9,379.3 110.1,380.1 110.2,380.9 110.4,381.6 110.6,382.3 111.0,382.8 111.5,383.4 111.9,383.9 112.2,384.5 112.4,385.0 112.4,385.6 112.2,386.1 112.0,386.5 111.7,386.9 111.3,387.3 111.0,387.7 110.8,388.2 110.7,388.7 110.7,389.3 111.0,390.0 111.4,390.7 111.7,391.5 111.7,392.3 111.2,393.0 110.5,393.7 109.8,394.4 109.3,395.1 109.3,396.0 109.7,397.0 110.2,397.9 110.4,398.8 110.1,399.6 109.5,400.4 108.7,401.2 108.3,402.0 108.3,403.0 108.8,403.9 109.4,404.9 109.6,405.8 109.3,406.7 108.6,407.5 108.0,408.4 107.7,409.2 107.8,410.0 108.3,410.8 108.8,411.5 109.2,412.2 109.3,412.9 109.1,413.6 108.7,414.2 108.2,414.9 107.9,415.5 107.7,416.2 107.8,416.8 108.2,417.4 108.7,418.0 109.2,418.6 109.6,419.1 109.8,419.7 109.7,420.3 109.5,420.9 109.2,421.6 108.9,422.2 108.8,422.9 108.9,423.5 109.1,424.0 109.6,424.5 110.2,425.0 110.7,425.5 111.2,426.0 111.4,426.5 111.3,427.2 111.1,427.8 110.8,428.5 110.6,429.2 110.6,429.9 110.8,430.5 111.2,431.0 111.8,431.5 112.4,431.9 112.9,432.4 113.3,432.9 113.4,433.5 113.3,434.2 113.1,434.9 113.0,435.7 112.9,436.4 113.1,437.0 113.5,437.5 114.1,437.9 114.8,438.3 115.5,438.7 115.9,439.2 116.2,439.8 116.2,440.6 116.0,441.4 116.0,442.2 116.1,442.9 116.4,443.5 117.0,444.0 117.8,444.3 118.6,444.6 119.2,445.0 119.6,445.5 119.7,446.3 119.7,447.1 119.7,447.9 119.8,448.7 120.1,449.3 120.7,449.7 121.5,450.0 122.2,450.3 122.9,450.6 123.4,451.1 123.7,451.7 124.0,452.4 124.3,453.1 124.7,453.8 125.3,454.3 126.0,454.6 126.7,454.9 127.4,455.2 128.1,455.6 128.7,456.1 129.2,456.6 129.9,457.1 130.5,457.6 131.2,458.0 131.9,458.4 132.6,458.9 133.2,459.3 133.9,459.8 134.7,460.2 135.4,460.7 136.1,461.1 136.9,461.5 137.6,461.9 138.4,462.3 139.1,462.7 139.9,463.0 140.7,463.3 141.5,463.6 142.3,463.8 143.2,464.1 144.1,464.3 144.9,464.5 145.8,464.7 146.6,464.9 147.5,465.1 148.3,465.2 149.1,465.4 149.9,465.5 150.7,465.6 151.4,465.7 152.1,465.8 152.8,465.9 153.5,465.9 154.2,465.9 154.9,466.0 155.6,466.0 156.3,466.0 157.0,466.0 157.7,466.0 158.4,466.0 159.1,466.0 159.8,466.0 160.5,466.0 161.2,466.0 161.9,466.0 162.6,465.9 163.3,465.9 164.0,465.9 164.7,465.8 165.4,465.7 166.1,465.6 166.9,465.5 167.7,465.4 168.5,465.3 169.2,465.2 170.0,465.0 170.8,464.9 171.7,464.8 172.5,464.6 173.3,464.4 174.2,464.1 175.1,463.8 176.0,463.4 176.9,463.0 177.9,462.5 178.9,461.9 179.9,461.3 180.9,460.6 182.0,459.9 183.1,459.1 184.2,458.3 185.2,457.6 186.3,456.8 187.3,455.9 188.3,455.3 189.3,454.7 190.1,454.0 190.8,453.0 191.4,452.1 192.2,451.4 193.2,451.1 194.3,450.8 195.1,450.2 195.6,449.3 195.8,448.1 196.1,447.0 196.7,446.3 197.8,445.9 199.0,445.5 199.7,444.7 199.9,443.6 199.7,442.3 199.8,441.2 200.4,440.3 201.5,439.7 202.5,439.0 203.0,438.0 202.8,436.9 202.6,435.7 202.6,434.7 203.2,433.9 204.1,433.3 205.0,432.7 205.5,431.9 205.5,430.9 205.2,429.9 205.0,428.9 205.0,428.0 205.6,427.3 206.4,426.7 207.2,426.0 207.7,425.3 207.7,424.4 207.4,423.3 207.2,422.3 207.3,421.3 207.9,420.6 208.8,420.0 209.6,419.3 210.1,418.5 210.0,417.6 209.6,416.6 209.2,415.7 209.1,414.9 209.3,414.2 209.8,413.5 210.3,412.7 210.6,411.9 210.5,411.1 210.1,410.4 209.4,409.8 208.7,409.2 208.2,408.5 208.1,407.7 208.3,406.9 208.7,405.9 208.9,405.0 208.6,404.1 207.9,403.4 206.9,402.8 206.2,402.1 205.8,401.3 206.0,400.2 206.3,399.1 206.3,398.1 206.0,397.4 205.3,396.7 204.5,396.1 204.0,395.3 203.9,394.6 204.1,393.8 204.6,393.0 205.1,392.3 205.4,391.7 205.4,391.0 205.2,390.3 204.8,389.6 204.4,388.8 204.3,388.0 204.6,387.3 205.0,386.7 205.7,386.2 206.3,385.7 206.8,385.1 207.1,384.5 207.3,383.8 207.4,382.9 207.6,382.2 207.9,381.5 208.4,380.8 209.0,380.2 209.5,379.6 209.9,378.8 210.3,378.0 210.5,377.1 210.8,376.3 211.2,375.5 211.6,374.6 212.0,373.7 212.4,372.9 212.7,371.9 213.1,371.0 213.4,370.0 213.7,369.0 214.0,368.0 214.3,366.9 214.5,365.8 214.8,364.7 215.0,363.5 215.2,362.3 215.4,361.2 215.6,359.9 215.8,358.7 216.0,357.5 216.2,356.2 216.4,355.0 216.6,353.7 216.8,352.4 216.9,351.1 217.1,349.8 217.3,348.4 217.4,347.1 217.6,345.7 217.7,344.3 217.9,343.0 218.0,341.6 218.1,340.3 218.2,339.0 218.3,337.7 218.4,336.4 218.5,335.1 218.5,333.9 218.6,332.6 218.6,331.3 218.7,330.1 218.7,328.9 218.7,327.6 218.7,326.4 218.7,325.2 218.6,324.0 218.5,322.8 218.4,321.7 218.3,320.5 218.2,319.4 218.1,318.2 217.9,317.1 217.8,316.0 217.6,314.9 217.4,313.8 217.2,312.7 216.9,311.6 216.7,310.5 216.4,309.4 216.2,308.3 215.9,307.2 215.6,306.1 215.3,305.0 214.9,303.9 214.6,302.8 214.2,301.7 213.8,300.7 213.4,299.6 212.9,298.5 212.4,297.5 211.9,296.5 211.3,295.5 210.7,294.5 210.1,293.5 209.5,292.5 208.8,291.5 208.2,290.5 207.4,289.6 206.7,288.6 205.9,287.6 205.1,286.7 204.3,285.7 203.4,284.7 202.6,283.7 201.6,282.7 200.7,281.7 199.7,280.7 198.7,279.8 197.7,278.8 196.7,277.8 195.6,276.9 194.5,275.9 193.4,275.1 192.2,274.2 191.0,273.4 189.8,272.5 188.6,271.7 187.3,270.9 186.0,270.1 184.7,269.3 183.3,268.6 182.0,267.9 180.6,267.3 179.2,266.7 177.8,266.1 176.4,265.6 175.0,265.2 173.5,264.8 172.1,264.4 170.6,264.1 169.1,263.8 167.6,263.6 166.0,263.4 164.5,263.3 163.0,263.1 161.4,263.1 159.9,263.0Z" stroke="#00a651" stroke-width="5.5" fill="none" stroke-linejoin="round"/>
<path d="M158.4,262.5C152.28,262.5 145.48,263.54 139.9,265C134.32,266.46 129.28,268.75 124.9,271.25C120.53,273.75 116.98,276.67 113.65,280C110.32,283.33 107.4,287.29 104.9,291.25C102.4,295.21 100.32,299.38 98.65,303.75C96.98,308.12 95.62,313.12 94.9,317.5C94.18,321.88 94.2,325.83 94.3,330C94.4,334.17 94.9,339 95.5,342.5C96.1,346 96.96,347.67 97.9,351C98.84,354.33 99.57,358.5 101.15,362.5C102.73,366.5 105.11,371.04 107.4,375C109.69,378.96 112.61,382.92 114.9,386.25C117.19,389.58 119.8,391.88 121.15,395C122.5,398.12 122.79,401.67 123,405C123.21,408.33 122.18,411.67 122.4,415C122.62,418.33 123.68,422.08 124.3,425C124.93,427.92 124.8,430 126.15,432.5C127.5,435 130.11,437.71 132.4,440C134.69,442.29 137.4,444.58 139.9,446.25C142.4,447.92 144.32,449.17 147.4,450C150.48,450.83 154.98,451.25 158.4,451.25C161.82,451.25 164.44,451.25 167.9,450C171.36,448.75 175.82,446.25 179.15,443.75C182.48,441.25 185.71,438.12 187.9,435C190.09,431.88 191.15,428.33 192.3,425C193.45,421.67 194.49,418.75 194.8,415C195.11,411.25 193.63,406.25 194.15,402.5C194.67,398.75 196.03,395.83 197.9,392.5C199.78,389.17 202.69,386.67 205.4,382.5C208.11,378.33 211.75,372.92 214.15,367.5C216.55,362.08 218.55,355.21 219.8,350C221.05,344.79 221.23,341.04 221.65,336.25C222.07,331.46 222.51,325.83 222.3,321.25C222.09,316.67 221.76,312.92 220.4,308.75C219.04,304.58 216.65,300.21 214.15,296.25C211.65,292.29 208.94,288.75 205.4,285C201.86,281.25 197.69,277.08 192.9,273.75C188.11,270.42 182.4,266.88 176.65,265C170.9,263.12 164.53,262.5 158.4,262.5Z" stroke="#ec1c24" stroke-width="5.5" fill="none" stroke-linejoin="round"/>
<path d="M479.7,260.9 478.7,260.9 477.7,260.9 476.8,261.0 475.8,261.0 474.8,261.1 473.8,261.1 472.8,261.2 471.8,261.3 470.9,261.4 469.9,261.5 469.0,261.6 468.1,261.7 467.2,261.8 466.4,261.9 465.6,262.0 464.8,262.1 464.0,262.3 463.2,262.4 462.4,262.5 461.7,262.7 460.9,262.8 460.2,263.0 459.5,263.1 458.7,263.3 458.0,263.4 457.3,263.6 456.6,263.8 455.9,263.9 455.2,264.1 454.6,264.3 453.9,264.5 453.2,264.7 452.5,264.9 451.8,265.2 451.1,265.4 450.4,265.7 449.6,266.0 448.8,266.4 447.9,266.8 447.1,267.2 446.2,267.6 445.4,268.0 444.5,268.4 443.6,268.8 442.8,269.3 442.0,269.7 441.2,270.1 440.5,270.5 439.8,270.9 439.1,271.2 438.4,271.6 437.8,271.9 437.2,272.2 436.6,272.6 436.0,272.9 435.4,273.3 434.9,273.6 434.3,274.0 433.7,274.4 433.1,274.8 432.5,275.3 431.8,275.7 431.2,276.2 430.6,276.6 430.0,277.1 429.4,277.6 428.8,278.1 428.1,278.6 427.5,279.1 426.9,279.6 426.3,280.2 425.7,280.7 425.0,281.3 424.4,281.9 423.8,282.5 423.1,283.1 422.5,283.7 421.8,284.4 421.2,285.0 420.5,285.7 419.9,286.3 419.3,286.9 418.8,287.5 418.3,288.1 417.8,288.7 417.3,289.3 416.8,289.9 416.4,290.5 416.0,291.0 415.6,291.6 415.2,292.1 414.8,292.7 414.4,293.3 414.1,293.8 413.7,294.4 413.4,295.0 413.0,295.6 412.7,296.2 412.4,296.8 412.1,297.4 411.8,298.0 411.5,298.6 411.2,299.2 410.9,299.9 410.7,300.5 410.4,301.1 410.2,301.7 409.9,302.4 409.7,303.0 409.5,303.7 409.2,304.3 409.0,305.0 408.8,305.7 408.6,306.3 408.4,307.0 408.3,307.7 408.1,308.3 407.9,309.0 407.7,309.6 407.6,310.3 407.4,310.9 407.3,311.5 407.1,312.1 407.0,312.6 406.9,313.2 406.7,313.8 406.6,314.3 406.5,314.9 406.4,315.5 406.2,316.0 406.1,316.6 406.0,317.2 405.9,317.7 405.7,318.3 405.6,318.9 405.4,319.5 405.3,320.1 405.2,320.6 405.0,321.2 404.9,321.8 404.8,322.4 404.7,322.9 404.6,323.5 404.5,324.0 404.4,324.5 404.4,325.1 404.4,325.6 404.4,326.1 404.4,326.6 404.4,327.1 404.4,327.6 404.4,328.1 404.4,328.6 404.4,329.0 404.3,329.5 404.2,330.0 404.1,330.5 403.9,330.9 403.7,331.4 403.5,331.9 403.3,332.3 403.1,332.8 402.9,333.2 402.7,333.7 402.4,334.1 402.2,334.6 402.0,335.0 401.8,335.5 401.6,335.9 401.4,336.3 401.2,336.7 401.0,337.1 400.8,337.5 400.6,337.9 400.4,338.3 400.2,338.7 400.0,339.2 399.9,339.7 399.7,340.3 399.6,341.0 399.5,341.8 399.4,342.6 399.3,343.5 399.2,344.5 399.1,345.5 399.0,346.5 399.0,347.5 398.9,348.6 398.9,349.6 398.9,350.6 398.9,351.6 398.9,352.5 398.9,353.4 399.0,354.3 399.0,355.1 399.1,356.0 399.2,356.8 399.3,357.7 399.4,358.5 399.5,359.2 399.6,360.0 399.7,360.7 399.9,361.4 400.0,362.0 400.1,362.6 400.2,363.1 400.4,363.5 400.5,363.9 400.6,364.3 400.8,364.6 400.9,365.0 401.1,365.3 401.3,365.7 401.5,366.1 401.7,366.5 402.0,367.0 402.3,367.5 402.6,368.1 403.0,368.7 403.4,369.3 403.8,370.0 404.2,370.6 404.6,371.3 405.1,371.9 405.5,372.6 406.0,373.2 406.5,373.9 407.0,374.5 407.5,375.1 408.1,375.7 408.7,376.3 409.3,376.9 409.9,377.5 410.5,378.1 411.2,378.6 411.8,379.2 412.4,379.8 413.0,380.4 413.5,380.9 414.0,381.5 414.5,382.1 415.0,382.6 415.5,383.2 416.0,383.8 416.5,384.3 417.0,384.9 417.4,385.5 417.8,386.0 418.1,386.5 418.3,387.0 418.5,387.5 418.5,388.0 418.4,388.5 418.2,388.9 417.9,389.3 417.4,389.7 416.9,390.0 416.4,390.4 415.8,390.7 415.2,391.0 414.7,391.4 414.3,391.8 413.9,392.2 413.6,392.6 413.4,393.0 413.1,393.3 412.9,393.6 412.7,393.8 412.5,394.1 412.2,394.3 412.0,394.6 411.8,394.8 411.6,395.1 411.5,395.3 411.3,395.6 411.2,395.9 411.1,396.2 411.0,396.5 411.0,396.7 410.9,397.0 410.9,397.3 411.0,397.6 411.0,397.9 411.1,398.2 411.3,398.5 411.4,398.7 411.5,399.0 411.7,399.3 411.8,399.7 411.8,400.1 411.9,400.6 411.9,401.2 411.9,401.8 412.1,402.4 412.3,402.9 412.8,403.3 413.3,403.7 413.9,403.9 414.5,404.1 415.1,404.3 415.6,404.6 416.0,405.1 416.5,405.8 417.0,406.5 417.5,407.1 418.2,407.5 419.0,407.6 419.8,407.6 420.6,407.6 421.2,407.7 421.8,408.0 422.1,408.4 422.4,408.8 422.5,409.2 422.6,409.6 422.6,409.9 422.5,410.1 422.5,410.3 422.4,410.5 422.3,410.6 422.3,410.7 422.2,410.9 422.1,411.0 422.0,411.2 421.9,411.3 421.8,411.6 421.6,411.9 421.4,412.2 421.1,412.6 420.8,413.0 420.5,413.4 420.1,413.6 419.8,413.8 419.5,413.9 419.2,414.0 418.9,414.1 418.6,414.3 418.3,414.5 418.1,414.7 417.8,415.0 417.7,415.3 417.6,415.7 417.6,416.1 417.6,416.4 417.8,416.8 418.0,417.1 418.3,417.4 418.6,417.6 419.0,417.7 419.5,417.8 419.9,417.9 420.4,418.0 420.8,418.3 421.2,418.7 421.6,419.1 421.9,419.6 422.3,420.1 422.7,420.5 423.1,420.8 423.5,421.0 423.9,421.1 424.3,421.2 424.8,421.2 425.2,421.3 425.7,421.3 426.1,421.5 426.4,421.7 426.7,421.9 427.0,422.2 427.2,422.5 427.3,422.9 427.4,423.2 427.5,423.6 427.5,423.9 427.4,424.2 427.4,424.5 427.4,424.8 427.4,425.0 427.5,425.3 427.6,425.6 427.8,425.9 428.0,426.2 428.3,426.4 428.6,426.6 429.0,426.7 429.4,426.8 429.8,426.9 430.2,427.0 430.6,427.2 430.9,427.5 431.2,427.9 431.5,428.3 431.7,428.7 431.8,429.1 432.0,429.5 432.1,429.8 432.2,430.1 432.3,430.3 432.4,430.6 432.6,430.8 432.8,431.1 433.0,431.4 433.2,431.7 433.5,432.0 433.7,432.3 433.9,432.5 434.0,432.7 434.2,432.9 434.4,433.1 434.5,433.3 434.6,433.6 434.7,433.9 434.8,434.2 434.9,434.5 435.1,434.8 435.2,435.1 435.4,435.4 435.7,435.7 436.0,435.9 436.3,436.1 436.6,436.2 437.0,436.2 437.4,436.1 437.8,436.0 438.3,435.9 438.7,435.8 439.1,435.6 439.5,435.5 439.9,435.5 440.3,435.6 440.7,435.8 441.1,436.0 441.4,436.2 441.7,436.5 442.1,436.7 442.4,436.9 442.8,437.1 443.2,437.2 443.5,437.3 443.9,437.3 444.3,437.2 444.7,437.1 445.1,437.0 445.6,437.0 446.0,437.1 446.4,437.2 446.8,437.3 447.2,437.6 447.6,437.9 447.9,438.2 448.2,438.6 448.5,439.0 448.8,439.3 449.1,439.6 449.5,439.9 449.9,440.2 450.2,440.4 450.6,440.7 451.0,440.9 451.3,441.2 451.6,441.6 451.9,441.9 452.2,442.3 452.4,442.7 452.7,443.1 452.9,443.6 453.2,444.0 453.5,444.5 453.8,445.0 454.1,445.5 454.4,446.1 454.7,446.7 455.0,447.3 455.3,447.9 455.6,448.5 455.9,449.1 456.2,449.7 456.5,450.3 456.8,450.9 457.0,451.5 457.2,452.1 457.4,452.6 457.7,453.1 457.8,453.6 458.0,454.2 458.2,454.7 458.4,455.2 458.5,455.7 458.7,456.3 458.9,456.8 459.1,457.4 459.3,458.0 459.5,458.6 459.7,459.3 459.9,459.9 460.1,460.6 460.3,461.3 460.5,461.9 460.7,462.6 460.9,463.3 461.1,464.0 461.4,464.7 461.7,465.3 462.0,466.0 462.3,466.7 462.7,467.3 463.1,468.0 463.5,468.7 463.9,469.3 464.4,470.0 464.8,470.6 465.3,471.3 465.8,471.9 466.3,472.5 466.8,473.0 467.2,473.5 467.8,474.0 468.3,474.4 468.9,474.8 469.4,475.2 470.0,475.6 470.6,475.9 471.2,476.2 471.8,476.5 472.4,476.8 472.9,477.1 473.5,477.3 474.0,477.5 474.5,477.7 475.0,477.8 475.5,478.0 475.9,478.1 476.4,478.1 476.8,478.2 477.3,478.2 477.7,478.3 478.2,478.3 478.6,478.3 479.1,478.3 479.6,478.3 480.1,478.3 480.6,478.3 481.1,478.3 481.7,478.3 482.2,478.2 482.7,478.2 483.3,478.1 483.8,478.1 484.4,478.0 484.9,477.8 485.5,477.7 486.0,477.5 486.6,477.3 487.1,477.1 487.7,476.8 488.3,476.5 488.9,476.2 489.4,475.9 490.0,475.6 490.6,475.2 491.2,474.8 491.7,474.4 492.2,474.0 492.8,473.5 493.2,473.0 493.7,472.4 494.2,471.9 494.7,471.2 495.2,470.6 495.6,469.9 496.1,469.3 496.5,468.6 496.9,467.9 497.3,467.3 497.7,466.6 498.0,466.0 498.3,465.4 498.6,464.8 498.8,464.2 499.1,463.6 499.3,463.0 499.5,462.4 499.6,461.8 499.8,461.2 500.0,460.7 500.1,460.1 500.3,459.5 500.5,459.0 500.7,458.5 500.9,457.9 501.0,457.4 501.2,456.9 501.4,456.4 501.5,455.9 501.7,455.4 501.9,454.9 502.0,454.4 502.2,454.0 502.3,453.5 502.5,453.0 502.7,452.5 502.8,452.0 503.0,451.6 503.1,451.1 503.3,450.6 503.5,450.2 503.6,449.7 503.8,449.2 504.0,448.8 504.1,448.4 504.3,447.9 504.5,447.5 504.7,447.1 504.9,446.7 505.1,446.3 505.2,445.9 505.4,445.5 505.6,445.1 505.8,444.8 506.1,444.4 506.3,444.0 506.5,443.7 506.7,443.3 507.0,443.0 507.2,442.6 507.5,442.3 507.8,441.9 508.1,441.6 508.4,441.3 508.7,441.0 509.1,440.7 509.5,440.5 509.9,440.3 510.2,440.0 510.6,439.8 510.9,439.5 511.2,439.2 511.5,438.8 511.7,438.5 512.0,438.2 512.4,437.9 512.7,437.6 513.1,437.4 513.5,437.3 514.0,437.2 514.4,437.2 514.9,437.2 515.3,437.3 515.8,437.4 516.2,437.4 516.6,437.3 517.0,437.2 517.5,436.9 517.9,436.7 518.3,436.4 518.8,436.2 519.2,436.0 519.6,435.8 520.0,435.8 520.4,435.8 520.8,435.8 521.3,435.9 521.7,436.0 522.2,436.1 522.6,436.1 523.0,436.0 523.4,435.8 523.8,435.6 524.1,435.3 524.3,435.0 524.5,434.6 524.6,434.3 524.6,433.9 524.6,433.6 524.6,433.3 524.5,433.1 524.5,432.8 524.6,432.4 524.7,432.1 524.8,431.8 525.0,431.4 525.2,431.1 525.5,430.8 525.8,430.6 526.0,430.4 526.3,430.2 526.5,430.0 526.7,429.8 526.9,429.5 527.0,429.2 527.1,428.8 527.2,428.4 527.3,428.1 527.4,427.7 527.5,427.3 527.6,427.0 527.7,426.6 527.9,426.3 528.1,426.0 528.4,425.8 528.7,425.5 529.1,425.3 529.5,425.1 529.8,424.8 530.2,424.6 530.4,424.4 530.7,424.2 530.9,423.9 531.1,423.6 531.2,423.3 531.4,423.0 531.7,422.6 531.9,422.3 532.2,422.0 532.5,421.7 532.8,421.5 533.1,421.3 533.5,421.2 534.0,421.2 534.4,421.1 535.0,421.1 535.5,421.1 536.1,421.0 536.6,420.8 537.1,420.5 537.4,420.0 537.8,419.5 538.1,419.0 538.4,418.5 538.7,418.2 538.9,417.9 539.2,417.7 539.4,417.5 539.7,417.3 540.0,417.0 540.2,416.6 540.4,416.2 540.5,415.8 540.5,415.4 540.5,415.0 540.3,414.6 540.1,414.2 539.8,413.9 539.5,413.7 539.2,413.5 538.8,413.4 538.5,413.3 538.1,413.2 537.8,413.0 537.4,412.8 537.1,412.5 536.9,412.1 536.7,411.8 536.5,411.4 536.5,411.1 536.5,410.9 536.5,410.6 536.5,410.4 536.6,410.3 536.6,410.1 536.6,410.0 536.6,409.8 536.7,409.6 536.7,409.4 536.7,409.2 536.7,408.9 536.7,408.6 536.8,408.3 536.9,408.0 537.0,407.6 537.2,407.3 537.4,407.0 537.7,406.7 538.1,406.5 538.5,406.4 538.9,406.3 539.4,406.2 539.9,406.2 540.4,406.1 540.9,406.0 541.3,405.9 541.7,405.6 542.1,405.2 542.5,404.7 542.9,404.2 543.3,403.7 543.7,403.3 544.2,403.1 544.8,403.0 545.3,402.9 545.9,402.8 546.4,402.8 546.9,402.6 547.3,402.3 547.7,402.0 547.9,401.6 548.1,401.2 548.3,400.7 548.4,400.3 548.5,399.9 548.6,399.5 548.7,399.2 548.8,398.9 548.9,398.6 549.0,398.4 549.1,398.1 549.2,397.8 549.3,397.5 549.3,397.1 549.4,396.8 549.3,396.4 549.2,396.1 549.0,395.7 548.8,395.4 548.6,395.1 548.3,394.9 547.9,394.6 547.5,394.5 547.0,394.3 546.5,394.1 546.0,393.9 545.5,393.7 545.1,393.4 544.6,393.1 544.2,392.7 543.8,392.4 543.5,392.1 543.2,391.8 542.9,391.5 542.7,391.2 542.4,390.9 542.1,390.6 541.8,390.2 541.6,389.9 541.5,389.5 541.3,389.1 541.3,388.7 541.3,388.3 541.3,387.9 541.4,387.5 541.5,387.1 541.7,386.6 542.0,386.2 542.3,385.7 542.6,385.3 543.0,384.8 543.4,384.3 543.8,383.9 544.2,383.4 544.7,382.9 545.1,382.4 545.6,381.9 546.1,381.4 546.6,380.9 547.2,380.4 547.8,379.8 548.4,379.3 549.0,378.8 549.6,378.3 550.2,377.7 550.8,377.2 551.4,376.7 552.0,376.1 552.5,375.6 553.0,375.1 553.5,374.6 553.9,374.1 554.4,373.6 554.9,373.2 555.3,372.7 555.7,372.2 556.1,371.7 556.5,371.2 556.8,370.6 557.2,370.0 557.5,369.4 557.8,368.7 558.1,368.0 558.3,367.2 558.5,366.4 558.7,365.6 558.9,364.8 559.1,363.9 559.2,363.1 559.4,362.3 559.5,361.5 559.7,360.7 559.8,360.0 559.9,359.3 560.1,358.7 560.2,358.1 560.4,357.5 560.5,356.9 560.6,356.4 560.7,355.8 560.8,355.2 560.9,354.6 561.0,354.0 561.0,353.3 561.0,352.5 561.0,351.7 560.9,350.8 560.8,349.8 560.7,348.8 560.6,347.7 560.5,346.7 560.3,345.6 560.2,344.6 560.0,343.6 559.8,342.7 559.7,341.8 559.5,341.0 559.3,340.3 559.2,339.6 559.0,339.0 558.8,338.5 558.6,337.9 558.4,337.4 558.2,337.0 558.0,336.5 557.8,336.0 557.6,335.5 557.4,335.0 557.2,334.5 557.0,334.0 556.9,333.4 556.7,332.9 556.5,332.3 556.4,331.8 556.2,331.2 556.1,330.7 555.9,330.1 555.8,329.6 555.6,329.1 555.5,328.5 555.4,328.0 555.3,327.5 555.2,327.0 555.1,326.5 555.0,326.0 554.9,325.5 554.8,325.0 554.8,324.5 554.7,324.0 554.6,323.5 554.6,323.0 554.5,322.5 554.4,322.0 554.3,321.5 554.3,321.0 554.2,320.6 554.1,320.1 554.1,319.7 554.0,319.2 554.0,318.7 553.9,318.3 553.8,317.8 553.7,317.3 553.6,316.7 553.5,316.2 553.4,315.6 553.3,315.0 553.1,314.4 553.0,313.7 552.8,313.1 552.7,312.4 552.5,311.7 552.4,311.0 552.2,310.3 552.0,309.7 551.8,309.0 551.5,308.3 551.3,307.7 551.1,307.0 550.8,306.3 550.5,305.7 550.2,305.0 549.9,304.3 549.6,303.6 549.3,303.0 548.9,302.3 548.6,301.7 548.4,301.0 548.1,300.4 547.8,299.8 547.6,299.2 547.4,298.6 547.1,298.0 546.9,297.4 546.7,296.9 546.5,296.3 546.2,295.8 546.0,295.2 545.7,294.6 545.4,294.1 545.1,293.5 544.8,292.9 544.4,292.3 544.1,291.8 543.7,291.2 543.3,290.6 542.9,290.0 542.4,289.4 542.0,288.9 541.6,288.3 541.1,287.7 540.7,287.2 540.2,286.6 539.8,286.1 539.3,285.6 538.9,285.1 538.4,284.6 537.9,284.1 537.4,283.6 537.0,283.2 536.5,282.7 535.9,282.2 535.4,281.7 534.9,281.2 534.3,280.8 533.8,280.3 533.2,279.7 532.6,279.2 532.0,278.7 531.4,278.2 530.7,277.7 530.1,277.2 529.5,276.7 528.8,276.2 528.2,275.7 527.6,275.3 526.9,274.8 526.3,274.4 525.7,274.0 525.1,273.6 524.6,273.2 524.0,272.9 523.4,272.5 522.8,272.2 522.2,271.8 521.6,271.5 520.9,271.1 520.2,270.8 519.5,270.4 518.8,270.0 518.0,269.6 517.2,269.2 516.4,268.8 515.5,268.4 514.7,268.0 513.8,267.7 512.9,267.3 512.1,266.9 511.2,266.6 510.4,266.2 509.6,265.9 508.9,265.6 508.2,265.4 507.5,265.1 506.8,264.9 506.2,264.6 505.5,264.4 504.8,264.2 504.2,264.0 503.5,263.8 502.8,263.6 502.0,263.5 501.3,263.3 500.5,263.1 499.7,262.9 498.8,262.8 498.0,262.6 497.1,262.5 496.3,262.4 495.4,262.2 494.5,262.1 493.6,262.0 492.7,261.9 491.8,261.8 490.9,261.7 490.0,261.6 489.1,261.5 488.2,261.4 487.2,261.3 486.3,261.2 485.4,261.1 484.4,261.1 483.5,261.0 482.5,261.0 481.6,260.9 480.6,260.9Z" stroke="#03aaea" stroke-width="5.5" fill="none" stroke-linejoin="round"/>
<path d="M479.6,260.3 478.7,260.3 477.7,260.3 476.7,260.4 475.7,260.4 474.7,260.5 473.7,260.5 472.7,260.6 471.8,260.7 470.8,260.8 469.9,260.9 468.9,261.0 468.1,261.1 467.2,261.2 466.3,261.3 465.5,261.4 464.7,261.6 463.9,261.7 463.1,261.8 462.3,261.9 461.6,262.1 460.8,262.2 460.1,262.4 459.3,262.6 458.6,262.8 457.9,262.9 457.2,263.1 456.5,263.3 455.8,263.5 455.1,263.7 454.5,263.9 453.8,264.2 453.1,264.4 452.5,264.7 451.8,265.0 451.1,265.3 450.3,265.6 449.6,266.0 448.8,266.4 448.0,266.9 447.2,267.3 446.3,267.8 445.5,268.3 444.7,268.8 443.9,269.4 443.1,269.9 442.3,270.4 441.6,270.8 440.9,271.3 440.2,271.7 439.6,272.2 439.0,272.6 438.4,273.0 437.9,273.4 437.3,273.8 436.8,274.2 436.3,274.6 435.7,275.0 435.2,275.4 434.7,275.8 434.1,276.3 433.5,276.8 433.0,277.3 432.4,277.8 431.9,278.3 431.3,278.8 430.7,279.3 430.2,279.9 429.6,280.4 429.1,281.0 428.5,281.5 428.0,282.1 427.4,282.7 426.8,283.3 426.3,283.9 425.7,284.5 425.1,285.2 424.5,285.8 423.9,286.5 423.4,287.2 422.8,287.8 422.3,288.5 421.7,289.1 421.2,289.7 420.8,290.3 420.3,290.9 419.9,291.5 419.5,292.0 419.1,292.6 418.8,293.1 418.4,293.6 418.1,294.2 417.7,294.7 417.4,295.2 417.1,295.8 416.8,296.3 416.5,296.9 416.2,297.4 415.9,298.0 415.7,298.5 415.4,299.1 415.2,299.7 414.9,300.2 414.7,300.8 414.5,301.4 414.3,302.0 414.1,302.6 413.8,303.2 413.6,303.8 413.4,304.4 413.2,305.0 413.1,305.6 412.9,306.3 412.7,306.9 412.5,307.6 412.4,308.2 412.2,308.9 412.1,309.5 411.9,310.1 411.8,310.7 411.6,311.3 411.5,311.9 411.4,312.5 411.2,313.0 411.1,313.6 411.0,314.1 410.9,314.7 410.8,315.2 410.7,315.7 410.6,316.3 410.5,316.8 410.4,317.3 410.3,317.8 410.3,318.4 410.2,318.9 410.2,319.4 410.1,319.9 410.1,320.4 410.0,320.9 410.0,321.4 410.0,322.0 409.9,322.5 409.9,323.0 409.9,323.6 409.9,324.1 409.9,324.7 409.9,325.3 409.9,325.9 409.9,326.5 409.9,327.1 409.9,327.8 409.9,328.4 410.0,329.0 410.0,329.7 410.0,330.4 410.1,331.0 410.1,331.7 410.1,332.4 410.2,333.2 410.2,333.9 410.2,334.7 410.3,335.5 410.3,336.2 410.4,337.0 410.5,337.8 410.5,338.6 410.6,339.3 410.7,340.1 410.8,340.8 410.9,341.5 411.0,342.3 411.1,343.0 411.2,343.6 411.4,344.3 411.5,345.0 411.6,345.7 411.8,346.4 411.9,347.0 412.0,347.7 412.1,348.4 412.2,349.0 412.3,349.7 412.3,350.4 412.3,351.0 412.3,351.7 412.3,352.3 412.3,352.9 412.2,353.6 412.3,354.2 412.3,354.9 412.3,355.6 412.4,356.3 412.6,357.0 412.8,357.7 413.0,358.5 413.3,359.3 413.6,360.1 413.9,360.9 414.3,361.7 414.6,362.5 415.0,363.4 415.4,364.2 415.7,365.0 416.1,365.7 416.5,366.5 416.9,367.2 417.3,368.0 417.7,368.7 418.1,369.4 418.5,370.2 418.9,370.9 419.4,371.6 419.8,372.3 420.2,373.0 420.7,373.7 421.1,374.3 421.5,375.0 421.9,375.7 422.3,376.3 422.8,377.0 423.2,377.6 423.6,378.3 423.9,379.0 424.4,379.6 424.8,380.2 425.3,380.7 425.8,381.3 426.2,381.8 426.6,382.4 427.0,383.0 427.2,383.6 427.6,384.2 427.9,384.8 428.4,385.2 428.9,385.6 429.4,385.9 430.0,386.2 430.5,386.5 431.0,386.9 431.3,387.3 431.6,387.9 431.9,388.4 432.2,389.0 432.5,389.5 433.0,389.9 433.5,390.2 434.1,390.3 434.8,390.4 435.3,390.5 435.9,390.6 436.3,390.9 436.7,391.3 436.9,391.7 437.0,392.1 437.1,392.5 437.0,392.9 437.0,393.3 436.9,393.6 436.9,393.9 436.8,394.1 436.8,394.4 436.8,394.6 436.8,394.8 436.8,395.1 436.9,395.3 436.9,395.7 436.9,396.1 436.9,396.5 436.8,396.9 436.6,397.4 436.4,397.8 436.0,398.1 435.6,398.3 435.2,398.4 434.7,398.5 434.2,398.6 433.7,398.8 433.3,398.9 433.0,399.1 432.7,399.3 432.4,399.7 432.2,400.0 432.1,400.5 432.0,400.9 431.9,401.4 431.8,401.8 431.8,402.2 431.7,402.5 431.7,402.7 431.5,403.0 431.4,403.3 431.2,403.6 430.9,403.9 430.7,404.3 430.4,404.7 430.3,405.1 430.2,405.5 430.1,405.9 430.2,406.3 430.4,406.7 430.6,407.1 430.9,407.4 431.2,407.7 431.5,408.1 431.7,408.4 432.0,408.7 432.1,409.1 432.2,409.4 432.3,409.8 432.2,410.2 432.2,410.7 432.1,411.1 432.0,411.6 432.0,412.1 432.1,412.6 432.3,413.0 432.6,413.3 433.0,413.6 433.4,413.9 433.9,414.1 434.4,414.3 434.8,414.6 435.2,414.9 435.4,415.3 435.6,415.7 435.6,416.2 435.6,416.7 435.5,417.1 435.4,417.6 435.3,418.1 435.3,418.5 435.3,418.9 435.4,419.3 435.7,419.6 436.0,420.0 436.3,420.2 436.7,420.5 437.1,420.7 437.5,420.9 437.8,421.1 438.1,421.4 438.3,421.7 438.5,422.1 438.6,422.5 438.7,422.9 438.8,423.4 438.8,423.8 438.9,424.2 439.0,424.6 439.1,424.9 439.3,425.2 439.6,425.5 439.9,425.7 440.2,425.9 440.6,426.1 440.9,426.3 441.3,426.6 441.6,426.8 441.9,427.0 442.1,427.3 442.3,427.6 442.4,428.0 442.5,428.4 442.5,428.9 442.5,429.4 442.6,429.8 442.7,430.3 442.8,430.7 443.1,431.0 443.4,431.3 443.8,431.5 444.3,431.7 444.7,431.8 445.2,431.8 445.7,431.9 446.1,432.0 446.5,432.1 446.8,432.3 447.2,432.6 447.4,433.0 447.7,433.4 448.0,433.8 448.2,434.2 448.4,434.5 448.6,434.8 448.9,435.0 449.1,435.1 449.4,435.3 449.7,435.4 449.9,435.5 450.2,435.6 450.5,435.7 450.8,435.8 451.0,436.0 451.3,436.1 451.5,436.2 451.8,436.4 452.0,436.6 452.2,436.8 452.4,437.1 452.6,437.4 452.7,437.7 452.9,438.0 453.1,438.2 453.2,438.5 453.5,438.8 453.8,439.0 454.1,439.1 454.4,439.2 454.8,439.3 455.2,439.3 455.7,439.2 456.1,439.1 456.6,439.0 457.0,439.0 457.5,438.9 458.0,438.9 458.4,438.8 458.9,438.8 459.3,438.8 459.8,438.8 460.2,438.8 460.6,438.8 461.0,438.8 461.4,438.9 461.9,438.9 462.3,438.9 462.7,439.0 463.1,439.0 463.5,439.1 463.8,439.2 464.2,439.4 464.5,439.6 464.8,439.8 465.1,440.1 465.4,440.4 465.6,440.7 465.9,441.0 466.1,441.4 466.3,441.8 466.5,442.2 466.7,442.6 466.9,443.0 467.1,443.5 467.2,444.0 467.4,444.5 467.6,445.1 467.7,445.7 467.8,446.3 467.9,446.9 468.0,447.6 468.1,448.3 468.2,448.9 468.3,449.6 468.4,450.3 468.6,450.9 468.8,451.5 468.9,452.1 469.2,452.7 469.4,453.3 469.6,453.9 469.9,454.5 470.1,455.1 470.4,455.7 470.6,456.2 470.9,456.8 471.2,457.3 471.5,457.8 471.8,458.2 472.0,458.7 472.3,459.1 472.6,459.5 472.9,459.8 473.2,460.2 473.6,460.5 473.9,460.8 474.2,461.1 474.5,461.3 474.8,461.6 475.2,461.8 475.5,462.0 475.8,462.2 476.2,462.4 476.5,462.5 476.8,462.6 477.1,462.8 477.5,462.9 477.8,462.9 478.2,463.0 478.5,463.0 478.9,463.1 479.2,463.1 479.6,463.1 480.0,463.1 480.4,463.1 480.8,463.1 481.2,463.0 481.6,463.0 482.0,462.9 482.4,462.8 482.9,462.7 483.3,462.6 483.7,462.4 484.1,462.2 484.5,462.0 484.9,461.7 485.3,461.5 485.7,461.1 486.1,460.8 486.5,460.4 486.9,460.1 487.3,459.7 487.6,459.2 488.0,458.8 488.3,458.4 488.7,457.9 489.0,457.5 489.3,457.1 489.6,456.6 489.9,456.1 490.2,455.7 490.4,455.2 490.7,454.7 490.9,454.2 491.2,453.7 491.4,453.1 491.6,452.6 491.8,452.1 492.0,451.5 492.2,450.9 492.3,450.3 492.4,449.7 492.6,449.0 492.7,448.3 492.8,447.7 492.8,447.0 492.9,446.3 493.1,445.7 493.2,445.1 493.3,444.5 493.5,444.0 493.7,443.5 493.9,443.0 494.1,442.5 494.3,442.1 494.6,441.7 494.8,441.2 495.1,440.9 495.3,440.5 495.6,440.2 495.9,439.9 496.2,439.7 496.5,439.5 496.8,439.4 497.2,439.3 497.5,439.3 497.9,439.3 498.2,439.4 498.6,439.5 499.0,439.6 499.4,439.7 499.8,439.8 500.2,439.9 500.6,440.0 501.0,440.0 501.4,440.0 501.8,440.0 502.3,440.0 502.8,440.0 503.2,440.0 503.7,439.9 504.1,439.8 504.6,439.6 505.0,439.5 505.4,439.3 505.8,439.2 506.2,439.1 506.6,438.9 507.0,438.8 507.4,438.6 507.9,438.4 508.3,438.1 508.6,437.8 508.9,437.4 509.1,437.0 509.3,436.5 509.4,436.0 509.5,435.6 509.7,435.2 509.8,434.9 510.0,434.6 510.1,434.4 510.3,434.2 510.5,434.0 510.8,433.9 511.0,433.7 511.3,433.6 511.7,433.4 512.0,433.3 512.4,433.1 512.7,432.9 513.1,432.7 513.3,432.3 513.6,431.8 513.8,431.2 514.0,430.5 514.2,429.9 514.5,429.4 514.9,429.0 515.4,428.8 516.0,428.6 516.6,428.4 517.1,428.2 517.5,428.0 517.8,427.6 517.9,427.3 518.0,426.9 518.0,426.6 518.0,426.2 517.9,425.9 517.8,425.6 517.7,425.2 517.6,424.8 517.6,424.4 517.7,423.9 517.9,423.5 518.2,423.1 518.6,422.8 519.2,422.6 519.7,422.4 520.3,422.3 520.8,422.0 521.2,421.7 521.6,421.3 521.8,420.8 521.9,420.3 522.0,419.7 522.0,419.2 522.1,418.7 522.3,418.2 522.5,417.9 522.9,417.6 523.3,417.3 523.7,417.1 524.2,416.9 524.6,416.6 525.1,416.3 525.4,416.0 525.6,415.6 525.7,415.1 525.7,414.6 525.7,414.0 525.7,413.5 525.6,412.9 525.7,412.5 525.8,412.0 526.1,411.6 526.4,411.2 526.8,410.9 527.3,410.5 527.7,410.1 528.0,409.7 528.2,409.2 528.2,408.6 528.1,408.1 527.8,407.5 527.6,407.0 527.3,406.4 527.2,405.9 527.2,405.4 527.3,404.9 527.6,404.4 527.9,404.0 528.2,403.6 528.5,403.2 528.8,402.8 528.9,402.4 529.0,401.9 529.0,401.5 528.8,401.0 528.6,400.6 528.4,400.2 528.1,399.8 527.9,399.5 527.7,399.2 527.5,398.9 527.4,398.5 527.3,398.1 527.3,397.6 527.2,397.0 527.2,396.4 527.0,395.9 526.8,395.5 526.5,395.1 526.2,394.9 525.8,394.6 525.4,394.4 525.0,394.2 524.7,394.0 524.3,393.8 524.1,393.6 523.8,393.4 523.6,393.1 523.5,392.8 523.5,392.4 523.5,392.0 523.6,391.7 523.8,391.3 524.1,391.0 524.4,390.7 524.7,390.5 525.0,390.2 525.2,389.8 525.4,389.3 525.6,388.8 525.7,388.3 525.9,387.7 526.1,387.1 526.4,386.6 526.8,386.2 527.3,385.8 527.9,385.5 528.4,385.2 528.9,384.8 529.4,384.4 529.8,383.8 530.1,383.3 530.5,382.7 530.9,382.1 531.4,381.5 531.9,381.0 532.5,380.5 533.0,380.0 533.6,379.5 534.1,378.8 534.6,378.2 535.1,377.6 535.7,376.9 536.2,376.2 536.8,375.6 537.3,374.9 537.9,374.2 538.4,373.5 539.0,372.7 539.5,372.0 540.0,371.2 540.6,370.5 541.1,369.7 541.7,368.9 542.3,368.1 542.8,367.3 543.3,366.5 543.8,365.6 544.3,364.7 544.8,363.8 545.2,362.9 545.5,362.0 545.8,361.0 546.0,360.0 546.2,358.9 546.3,357.8 546.4,356.7 546.5,355.6 546.6,354.4 546.7,353.3 546.7,352.2 546.8,351.2 546.9,350.2 547.1,349.3 547.2,348.4 547.4,347.6 547.6,346.8 547.8,346.1 548.1,345.4 548.3,344.7 548.5,344.0 548.7,343.4 548.9,342.7 549.1,342.0 549.2,341.3 549.4,340.6 549.5,339.9 549.6,339.1 549.6,338.4 549.7,337.7 549.8,336.9 549.8,336.2 549.8,335.4 549.8,334.7 549.9,334.0 549.9,333.3 549.9,332.6 549.9,331.9 549.9,331.2 549.9,330.5 549.9,329.9 549.9,329.3 549.9,328.6 549.9,328.0 549.8,327.4 549.8,326.8 549.8,326.2 549.8,325.5 549.7,324.9 549.7,324.3 549.7,323.7 549.7,323.1 549.6,322.4 549.6,321.8 549.6,321.2 549.5,320.6 549.5,320.0 549.5,319.4 549.4,318.7 549.3,318.1 549.3,317.5 549.2,316.9 549.1,316.3 549.0,315.7 548.9,315.1 548.8,314.5 548.7,313.9 548.6,313.3 548.5,312.7 548.3,312.1 548.2,311.5 548.0,310.9 547.8,310.3 547.6,309.7 547.4,309.0 547.2,308.4 547.0,307.8 546.7,307.1 546.4,306.4 546.1,305.8 545.8,305.1 545.6,304.5 545.3,303.8 545.0,303.2 544.7,302.6 544.5,301.9 544.3,301.4 544.1,300.8 543.9,300.2 543.7,299.6 543.5,299.1 543.3,298.5 543.2,298.0 543.0,297.4 542.8,296.9 542.5,296.4 542.3,295.8 542.0,295.3 541.7,294.7 541.4,294.2 541.1,293.6 540.8,293.1 540.4,292.5 540.1,292.0 539.7,291.4 539.3,290.9 538.9,290.3 538.5,289.8 538.2,289.3 537.8,288.7 537.4,288.2 537.0,287.7 536.6,287.2 536.2,286.7 535.8,286.2 535.3,285.7 534.9,285.2 534.5,284.7 534.0,284.2 533.6,283.7 533.1,283.2 532.6,282.7 532.1,282.2 531.6,281.6 531.0,281.1 530.5,280.5 529.9,280.0 529.4,279.4 528.8,278.9 528.2,278.3 527.6,277.8 527.0,277.3 526.5,276.8 525.9,276.3 525.3,275.8 524.8,275.4 524.3,274.9 523.7,274.5 523.2,274.1 522.7,273.7 522.1,273.3 521.6,272.9 521.0,272.4 520.4,272.0 519.8,271.6 519.1,271.2 518.4,270.7 517.7,270.3 516.9,269.8 516.1,269.4 515.3,268.9 514.5,268.4 513.7,267.9 512.8,267.5 512.0,267.1 511.2,266.6 510.4,266.2 509.7,265.9 508.9,265.5 508.2,265.2 507.6,264.9 506.9,264.6 506.2,264.4 505.6,264.1 504.9,263.8 504.3,263.6 503.6,263.4 502.9,263.2 502.2,263.0 501.4,262.8 500.6,262.6 499.8,262.4 499.0,262.2 498.1,262.1 497.2,261.9 496.4,261.8 495.5,261.7 494.6,261.5 493.7,261.4 492.8,261.3 491.9,261.2 491.0,261.1 490.0,261.0 489.1,260.9 488.2,260.8 487.3,260.7 486.3,260.6 485.4,260.5 484.4,260.5 483.5,260.4 482.5,260.4 481.5,260.3 480.6,260.3Z" stroke="#00a651" stroke-width="5.5" fill="none" stroke-linejoin="round"/>
<path d="M479.6,259.9C475.77,259.9 471.52,260.3 468,260.7C464.48,261.1 461.5,261.62 458.5,262.3C455.5,262.98 453.08,263.58 450,264.8C446.92,266.02 442.92,268.07 440,269.6C437.08,271.13 435,272.27 432.5,274C430,275.73 427.5,277.75 425,280C422.5,282.25 419.58,285.08 417.5,287.5C415.42,289.92 413.92,292.08 412.5,294.5C411.08,296.92 409.98,299.42 409,302C408.02,304.58 407.27,307.5 406.6,310C405.93,312.5 405.37,314.67 405,317C404.63,319.33 404.47,321.5 404.4,324C404.33,326.5 404.45,329.08 404.6,332C404.75,334.92 404.93,338.5 405.3,341.5C405.67,344.5 406.1,347.42 406.8,350C407.5,352.58 408.22,354.33 409.5,357C410.78,359.67 412.83,363.17 414.5,366C416.17,368.83 417.83,371.33 419.5,374C421.17,376.67 422.92,379.33 424.5,382C426.08,384.67 427.25,387.33 429,390C430.75,392.67 433,395.5 435,398C437,400.5 439,402.83 441,405C443,407.17 445.42,409.17 447,411C448.58,412.83 449.58,414.5 450.5,416C451.42,417.5 451.95,418.75 452.5,420C453.05,421.25 453.17,422.52 453.8,423.5C454.43,424.48 455.18,425.27 456.3,425.9C457.42,426.53 458.88,426.98 460.5,427.3C462.12,427.62 464.37,427.92 466,427.8C467.63,427.68 469.09,427.28 470.3,426.6C471.51,425.93 472.87,423.52 473.25,423.75C473.63,423.98 472.73,426.29 472.6,428C472.48,429.71 472.47,431.83 472.5,434C472.53,436.17 472.43,438.92 472.8,441C473.18,443.08 473.62,445.13 474.75,446.5C475.88,447.87 477.98,449.2 479.6,449.2C481.23,449.2 483.33,447.87 484.5,446.5C485.67,445.13 486.2,443.08 486.6,441C487,438.92 486.87,436.17 486.9,434C486.93,431.83 486.95,429.71 486.8,428C486.65,426.29 485.63,424.03 486,423.75C486.37,423.47 487.5,425.59 489,426.3C490.5,427.01 492.75,427.83 495,428C497.25,428.17 500.53,427.8 502.5,427.3C504.47,426.8 505.8,426.26 506.8,425C507.8,423.74 507.88,421.5 508.5,419.75C509.12,418 509.25,416.25 510.5,414.5C511.75,412.75 514.08,411.25 516,409.25C517.92,407.25 520.12,404.88 522,402.5C523.88,400.12 525.58,397.42 527.25,395C528.92,392.58 530.29,390.71 532,388C533.71,385.29 535.54,381.85 537.5,378.75C539.46,375.65 541.88,372.52 543.75,369.4C545.62,366.27 547.33,363.07 548.75,360C550.17,356.93 551.29,354.08 552.3,351C553.31,347.92 554.28,344.67 554.8,341.5C555.32,338.33 555.33,334.92 555.4,332C555.47,329.08 555.35,326.67 555.2,324C555.05,321.33 554.95,318.67 554.5,316C554.05,313.33 553.42,310.67 552.5,308C551.58,305.33 550.08,302.5 549,300C547.92,297.5 547.33,295.33 546,293C544.67,290.67 542.83,288.17 541,286C539.17,283.83 537.25,282 535,280C532.75,278 530,275.75 527.5,274C525,272.25 522.92,271 520,269.5C517.08,268 513.08,266.2 510,265C506.92,263.8 504.67,263.02 501.5,262.3C498.33,261.58 494.65,261.1 491,260.7C487.35,260.3 483.43,259.9 479.6,259.9Z" stroke="#ec1c24" stroke-width="5.5" fill="none" stroke-linejoin="round"/>
<text x="15.4" y="256.9" class="tt" textLength="68" lengthAdjust="spacingAndGlyphs">E plane</text>
<text x="551.8" y="257.9" class="tt" textLength="69.4" lengthAdjust="spacingAndGlyphs">H plane</text>
<text x="317" y="244" text-anchor="middle" class="tt" style="fill:#ec1c24">900 MHz</text>
<text x="317.5" y="267" text-anchor="middle" class="tt" style="fill:#00a651">1800 MHz</text>
<text x="317" y="290" text-anchor="middle" class="tt" style="fill:#03aaea">2500 MHz</text>
<path d="M791.18,236.9V521.2M835.46,236.9V521.2M879.74,236.9V521.2M924.02,236.9V521.2M968.3,236.9V521.2M1012.58,236.9V521.2M1056.86,236.9V521.2M1101.14,236.9V521.2M1145.42,236.9V521.2M1189.7,236.9V521.2M746.9,495.35H1189.7M746.9,469.51H1189.7M746.9,443.66H1189.7M746.9,417.82H1189.7M746.9,391.97H1189.7M746.9,366.13H1189.7M746.9,340.28H1189.7M746.9,314.44H1189.7M746.9,288.59H1189.7M746.9,262.75H1189.7M746.9,236.9H1189.7" stroke="#555" stroke-width="1.2" fill="none"/>
<path d="M741.9,521.2H746.9M741.9,495.35H746.9M741.9,469.51H746.9M741.9,443.66H746.9M741.9,417.82H746.9M741.9,391.97H746.9M741.9,366.13H746.9M741.9,340.28H746.9M741.9,314.44H746.9M741.9,288.59H746.9M741.9,262.75H746.9M741.9,236.9H746.9M746.9,521.2V526.4M791.18,521.2V526.4M835.46,521.2V526.4M879.74,521.2V526.4M924.02,521.2V526.4M968.3,521.2V526.4M1012.58,521.2V526.4M1056.86,521.2V526.4M1101.14,521.2V526.4M1145.42,521.2V526.4M1189.7,521.2V526.4" stroke="#2a2a2a" stroke-width="1.6" fill="none"/>
<path d="M746.9,236.3V521.2H1190.3" stroke="#2a2a2a" stroke-width="1.9" fill="none"/>
<path d="M751.2,297.4C751.8,296.37 753.37,293.35 754.8,291.2C756.23,289.05 757.73,286.55 759.8,284.5C761.87,282.45 764.53,280.55 767.2,278.9C769.87,277.25 772.93,275.67 775.8,274.6C778.67,273.53 781.73,272.75 784.4,272.5C787.07,272.25 789.13,272.75 791.8,273.1C794.47,273.45 797.2,274.18 800.4,274.6C803.6,275.02 808.75,275.7 811,275.6C813.25,275.5 812.6,275.08 813.9,274C815.2,272.92 816.33,269.87 818.8,269.1C821.27,268.33 825.82,269.5 828.7,269.4C831.58,269.3 833.02,268.65 836.1,268.5C839.18,268.35 844.53,268.2 847.2,268.5C849.87,268.8 850.88,270.52 852.1,270.3C853.32,270.08 853.58,268.78 854.5,267.2C855.42,265.62 856.57,261.78 857.6,260.8C858.63,259.82 858.95,260.95 860.7,261.3C862.45,261.65 865.02,262.73 868.1,262.9C871.18,263.07 875.92,262.23 879.2,262.3C882.48,262.37 885.55,263.5 887.8,263.3C890.05,263.1 891.07,261.83 892.7,261.1C894.33,260.37 896.38,259.33 897.6,258.9C898.82,258.47 898.37,258.17 900,258.5C901.63,258.83 904.73,260.13 907.4,260.9C910.07,261.67 913.13,262.73 916,263.1C918.87,263.47 921.73,263.42 924.6,263.1C927.47,262.78 930.12,261.47 933.2,261.2C936.28,260.93 939.4,261.58 943.1,261.5C946.8,261.42 951.92,261.1 955.4,260.7C958.88,260.3 961.33,259.43 964,259.1C966.67,258.77 968.73,258.4 971.4,258.7C974.07,259 976.93,259.92 980,260.9C983.07,261.88 986.32,263.2 989.8,264.6C993.28,266 997.4,268.32 1000.9,269.3C1004.4,270.28 1007.72,270.05 1010.8,270.5C1013.88,270.95 1016.33,271.33 1019.4,272C1022.47,272.67 1025.52,274.15 1029.2,274.5C1032.88,274.85 1038.03,274.18 1041.5,274.1C1044.97,274.02 1047.35,274.22 1050,274C1052.65,273.78 1054.73,273.32 1057.4,272.8C1060.07,272.28 1062.93,271.47 1066,270.9C1069.07,270.33 1072.72,269.5 1075.8,269.4C1078.88,269.3 1081.62,269.63 1084.5,270.3C1087.38,270.97 1090.23,272.17 1093.1,273.4C1095.97,274.63 1098.63,276.17 1101.7,277.7C1104.77,279.23 1108.22,280.75 1111.5,282.6C1114.78,284.45 1117.7,286.53 1121.4,288.8C1125.1,291.07 1129.8,294.05 1133.7,296.2C1137.6,298.35 1140.9,299.87 1144.8,301.7C1148.7,303.53 1153,305.45 1157.1,307.2C1161.2,308.95 1165.5,310.9 1169.4,312.2C1173.3,313.5 1177.63,314.5 1180.5,315C1183.37,315.5 1185.17,314.85 1186.6,315.2C1188.03,315.55 1188.68,316.78 1189.1,317.1" stroke="#cf3238" stroke-width="2.3" fill="none" stroke-linecap="round" stroke-linejoin="round"/>
<path d="M751.1,501.7C751.72,503.23 753.37,508.75 754.8,510.9C756.23,513.05 757.65,514.28 759.7,514.6C761.75,514.92 764.63,513.37 767.1,512.8C769.57,512.23 772.05,511.2 774.5,511.2C776.95,511.2 778.93,511.92 781.8,512.8C784.67,513.68 788.82,516.5 791.7,516.5C794.58,516.5 796.63,514.03 799.1,512.8C801.57,511.57 804.05,509.82 806.5,509.1C808.95,508.38 810.93,508.1 813.8,508.5C816.67,508.9 820.42,510.48 823.7,511.5C826.98,512.52 830.63,514.18 833.5,514.6C836.37,515.02 838.02,514.52 840.9,514C843.78,513.48 847.72,512.12 850.8,511.5C853.88,510.88 856.33,510.08 859.4,510.3C862.47,510.52 865.92,511.88 869.2,512.8C872.48,513.72 876.02,515.18 879.1,515.8C882.18,516.42 885.05,516.5 887.7,516.5C890.35,516.5 892.15,516.32 895,515.8C897.85,515.28 901.52,514.22 904.8,513.4C908.08,512.58 911.62,511.52 914.7,510.9C917.78,510.28 920.02,509.6 923.3,509.7C926.58,509.8 930.5,510.78 934.4,511.5C938.3,512.22 943.02,513.78 946.7,514C950.38,514.22 952.82,513.52 956.5,512.8C960.18,512.08 965.1,510.12 968.8,509.7C972.5,509.28 975,509.48 978.7,510.3C982.4,511.12 987.32,513.37 991,514.6C994.68,515.83 997.32,517.7 1000.8,517.7C1004.28,517.7 1008,515.83 1011.9,514.6C1015.8,513.37 1020.1,511.32 1024.2,510.3C1028.3,509.28 1032.4,508.5 1036.5,508.5C1040.6,508.5 1045.52,509.68 1048.8,510.3C1052.08,510.92 1053.53,511.73 1056.2,512.2C1058.87,512.67 1061.73,513 1064.8,513.1C1067.87,513.2 1071.32,513.07 1074.6,512.8C1077.88,512.53 1081.42,511.65 1084.5,511.5C1087.58,511.35 1090.23,511.55 1093.1,511.9C1095.97,512.25 1098.63,512.73 1101.7,513.6C1104.77,514.47 1107.82,515.87 1111.5,517.1C1115.18,518.33 1120.72,520.63 1123.8,521C1126.88,521.37 1127.93,520.1 1130,519.3C1132.07,518.5 1134.35,516.53 1136.2,516.2C1138.05,515.87 1139.05,517.47 1141.1,517.3C1143.15,517.13 1145.22,516.27 1148.5,515.2C1151.78,514.13 1156.7,512.23 1160.8,510.9C1164.9,509.57 1168.38,508.43 1173.1,507.2C1177.82,505.97 1186.43,504.12 1189.1,503.5" stroke="#28874b" stroke-width="2.3" fill="none" stroke-linecap="round" stroke-linejoin="round"/>
<text x="736.6" y="526" text-anchor="end" class="cl" textLength="7.9" lengthAdjust="spacingAndGlyphs">1</text>
<text x="736.6" y="500.15" text-anchor="end" class="cl" textLength="7.9" lengthAdjust="spacingAndGlyphs">2</text>
<text x="736.6" y="474.31" text-anchor="end" class="cl" textLength="7.9" lengthAdjust="spacingAndGlyphs">3</text>
<text x="736.6" y="448.46" text-anchor="end" class="cl" textLength="7.9" lengthAdjust="spacingAndGlyphs">4</text>
<text x="736.6" y="422.62" text-anchor="end" class="cl" textLength="7.9" lengthAdjust="spacingAndGlyphs">5</text>
<text x="736.6" y="396.77" text-anchor="end" class="cl" textLength="7.9" lengthAdjust="spacingAndGlyphs">6</text>
<text x="736.6" y="370.93" text-anchor="end" class="cl" textLength="7.9" lengthAdjust="spacingAndGlyphs">7</text>
<text x="736.6" y="345.08" text-anchor="end" class="cl" textLength="7.9" lengthAdjust="spacingAndGlyphs">8</text>
<text x="736.6" y="319.24" text-anchor="end" class="cl" textLength="7.9" lengthAdjust="spacingAndGlyphs">9</text>
<text x="736.6" y="293.39" text-anchor="end" class="cl" textLength="15.8" lengthAdjust="spacingAndGlyphs">10</text>
<text x="736.6" y="267.55" text-anchor="end" class="cl" textLength="15.8" lengthAdjust="spacingAndGlyphs">11</text>
<text x="736.6" y="241.7" text-anchor="end" class="cl" textLength="15.8" lengthAdjust="spacingAndGlyphs">12</text>
<text x="746.9" y="547.2" text-anchor="middle" class="cl" textLength="23.25" lengthAdjust="spacingAndGlyphs">700</text>
<text x="791.18" y="547.2" text-anchor="middle" class="cl" textLength="23.25" lengthAdjust="spacingAndGlyphs">900</text>
<text x="835.46" y="547.2" text-anchor="middle" class="cl" textLength="31" lengthAdjust="spacingAndGlyphs">1100</text>
<text x="879.74" y="547.2" text-anchor="middle" class="cl" textLength="31" lengthAdjust="spacingAndGlyphs">1300</text>
<text x="924.02" y="547.2" text-anchor="middle" class="cl" textLength="31" lengthAdjust="spacingAndGlyphs">1500</text>
<text x="968.3" y="547.2" text-anchor="middle" class="cl" textLength="31" lengthAdjust="spacingAndGlyphs">1700</text>
<text x="1012.58" y="547.2" text-anchor="middle" class="cl" textLength="31" lengthAdjust="spacingAndGlyphs">1900</text>
<text x="1056.86" y="547.2" text-anchor="middle" class="cl" textLength="31" lengthAdjust="spacingAndGlyphs">2100</text>
<text x="1101.14" y="547.2" text-anchor="middle" class="cl" textLength="31" lengthAdjust="spacingAndGlyphs">2300</text>
<text x="1145.42" y="547.2" text-anchor="middle" class="cl" textLength="31" lengthAdjust="spacingAndGlyphs">2500</text>
<text x="1189.7" y="547.2" text-anchor="middle" class="cl" textLength="31" lengthAdjust="spacingAndGlyphs">2700</text>
<text x="968.6" y="570.6" text-anchor="middle" class="cl" textLength="108.5" lengthAdjust="spacingAndGlyphs">Frequency (MHz)</text>
<path d="M1211.2,368.5H1228.4" stroke="#cf3238" stroke-width="2.6"/>
<path d="M1211.2,387.9H1228.4" stroke="#28874b" stroke-width="2.6"/>
<text x="1231" y="374" class="cl" textLength="63.3" lengthAdjust="spacingAndGlyphs">Gain (dBi)</text>
<text x="1231" y="393" class="cl" textLength="30.3" lengthAdjust="spacingAndGlyphs">SWR</text>
<rect x="1170.8" y="669.8" width="78.6" height="79.6" fill="#fcfcfc"/>
<path d="M1175.85,699.1A42.88,42.88 0 0 1 1244.15,699.1L1237.8,703.9A36.5,36.5 0 0 0 1182.4,703.9Z" fill="#b3e1f5"/>
<path d="M1192.15,708A22.65,22.65 0 0 1 1228.15,708L1222,712.9A16.9,16.9 0 0 0 1198.3,712.9Z" fill="#b3e1f5"/>
<circle cx="1210.9" cy="728.85" r="7.9" fill="#c3c3c3"/>
</svg>
</body></html>
